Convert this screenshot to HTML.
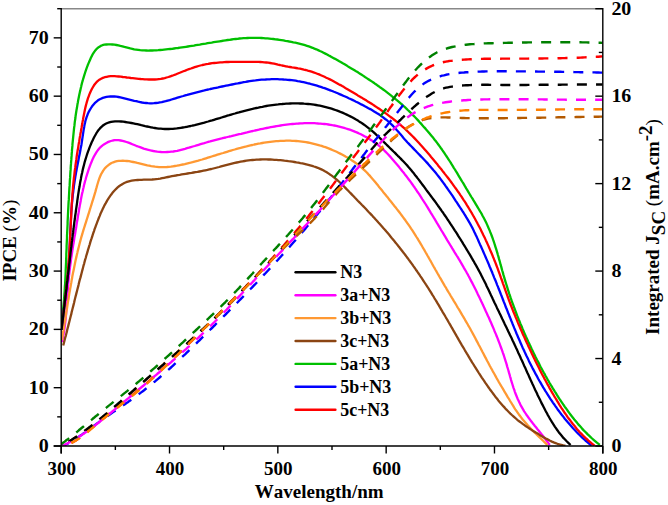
<!DOCTYPE html>
<html><head><meta charset="utf-8"><style>
html,body{margin:0;padding:0;background:#fff;width:668px;height:505px;overflow:hidden;}
svg{display:block;font-family:"Liberation Serif",serif;}
</style></head><body>
<svg width="668" height="505" viewBox="0 0 668 505">
<rect width="668" height="505" fill="#fff"/>
<defs><clipPath id="pc"><rect x="61.2" y="8.7" width="541.6" height="437.3"/></clipPath></defs>
<g clip-path="url(#pc)" fill="none" stroke-linejoin="round">
<path d="M62.0,342.0 62.4,340.0 62.8,338.1 63.2,336.1 63.6,334.1 63.9,332.1 64.2,330.1 64.5,328.2 64.8,326.2 65.0,324.2 65.3,322.2 65.5,320.2 65.7,318.2 65.9,316.2 66.1,314.2 66.2,312.2 66.4,310.2 66.5,308.2 66.7,306.2 66.8,304.2 67.0,302.2 67.1,300.2 67.2,298.2 67.4,296.2 67.5,294.2 67.6,292.2 67.8,290.2 67.9,288.2 68.1,286.2 68.2,284.2 68.4,282.2 68.6,280.2 68.8,278.2 69.0,276.2 69.2,274.2 69.4,272.2 69.6,270.2 69.9,268.3 70.1,266.3 70.4,264.3 70.7,262.3 70.9,260.3 71.2,258.3 71.5,256.3 71.8,254.3 72.1,252.3 72.4,250.3 72.7,248.4 73.0,246.4 73.3,244.4 73.7,242.4 74.0,240.4 74.3,238.4 74.6,236.4 75.0,234.5 75.3,232.5 75.6,230.5 76.0,228.5 76.3,226.6 76.6,224.6 76.9,222.6 77.3,220.6 77.6,218.7 77.9,216.7 78.2,214.7 78.6,212.7 78.9,210.8 79.2,208.8 79.6,206.8 79.9,204.9 80.3,202.9 80.7,200.9 81.0,199.0 81.4,197.0 81.8,195.1 82.2,193.1 82.7,191.2 83.1,189.2 83.6,187.3 84.0,185.3 84.5,183.4 85.0,181.4 85.6,179.5 86.1,177.5 86.7,175.6 87.3,173.7 87.9,171.8 88.5,169.8 89.2,167.9 89.9,166.0 90.6,164.1 91.4,162.2 92.2,160.3 93.0,158.4 93.9,156.6 94.9,154.8 95.9,153.1 97.0,151.4 98.2,149.8 99.4,148.3 100.8,146.9 102.3,145.6 103.9,144.4 105.5,143.4 107.3,142.4 109.1,141.6 110.9,141.0 112.8,140.5 114.7,140.2 116.7,140.1 118.6,140.2 120.6,140.5 122.6,140.9 124.5,141.4 126.5,142.0 128.5,142.7 130.4,143.4 132.3,144.2 134.3,145.0 136.2,145.8 138.1,146.5 140.0,147.2 141.9,147.9 143.7,148.6 145.6,149.1 147.5,149.7 149.5,150.2 151.4,150.6 153.4,151.0 155.3,151.3 157.3,151.6 159.3,151.8 161.3,152.0 163.3,152.1 165.3,152.1 167.3,152.0 169.3,151.9 171.3,151.7 173.3,151.5 175.3,151.1 177.2,150.8 179.2,150.3 181.1,149.8 183.1,149.3 185.0,148.8 187.0,148.2 188.9,147.7 190.8,147.1 192.8,146.5 194.7,146.0 196.6,145.4 198.6,144.8 200.5,144.2 202.4,143.6 204.3,143.1 206.3,142.5 208.2,141.9 210.1,141.4 212.1,140.8 214.0,140.3 215.9,139.8 217.9,139.3 219.8,138.8 221.7,138.4 223.7,137.9 225.6,137.5 227.5,137.0 229.5,136.5 231.4,136.1 233.4,135.6 235.3,135.2 237.3,134.7 239.2,134.2 241.2,133.8 243.1,133.3 245.1,132.8 247.0,132.4 249.0,131.9 251.0,131.4 252.9,131.0 254.9,130.5 256.9,130.1 258.8,129.7 260.8,129.2 262.8,128.8 264.7,128.4 266.7,128.0 268.7,127.6 270.7,127.2 272.6,126.8 274.6,126.5 276.6,126.1 278.6,125.8 280.6,125.5 282.5,125.2 284.5,124.9 286.5,124.6 288.5,124.4 290.5,124.2 292.5,124.0 294.5,123.8 296.5,123.6 298.5,123.5 300.5,123.3 302.4,123.3 304.4,123.2 306.4,123.1 308.4,123.1 310.4,123.1 312.4,123.2 314.4,123.2 316.4,123.3 318.4,123.5 320.4,123.6 322.4,123.8 324.4,124.0 326.4,124.2 328.4,124.5 330.4,124.8 332.4,125.2 334.3,125.5 336.3,125.9 338.2,126.4 340.2,126.9 342.1,127.4 344.1,127.9 346.0,128.5 347.9,129.1 349.8,129.7 351.7,130.4 353.6,131.1 355.4,131.9 357.3,132.6 359.1,133.5 360.9,134.3 362.7,135.2 364.5,136.2 366.3,137.1 368.0,138.1 369.7,139.2 371.4,140.3 373.1,141.4 374.8,142.5 376.4,143.7 378.0,144.9 379.5,146.2 381.0,147.5 382.5,148.8 384.0,150.2 385.4,151.6 386.8,153.0 388.2,154.5 389.5,155.9 390.9,157.4 392.2,158.9 393.5,160.4 394.8,162.0 396.1,163.5 397.4,165.0 398.7,166.6 399.9,168.1 401.2,169.7 402.4,171.3 403.7,172.8 404.9,174.4 406.2,176.0 407.4,177.6 408.6,179.2 409.8,180.8 411.0,182.4 412.1,184.0 413.3,185.7 414.5,187.3 415.6,189.0 416.7,190.6 417.8,192.3 419.0,193.9 420.1,195.6 421.2,197.3 422.2,199.0 423.3,200.7 424.4,202.3 425.5,204.0 426.5,205.7 427.6,207.4 428.6,209.1 429.7,210.9 430.7,212.6 431.8,214.3 432.8,216.0 433.8,217.7 434.9,219.4 435.9,221.2 436.9,222.9 438.0,224.6 439.0,226.3 440.0,228.0 441.0,229.8 442.1,231.5 443.1,233.2 444.1,234.9 445.2,236.7 446.2,238.4 447.2,240.1 448.3,241.8 449.3,243.5 450.3,245.2 451.4,246.9 452.4,248.7 453.5,250.4 454.5,252.1 455.6,253.8 456.6,255.5 457.7,257.2 458.7,258.9 459.8,260.6 460.8,262.4 461.8,264.1 462.8,265.8 463.8,267.6 464.8,269.3 465.8,271.0 466.8,272.8 467.8,274.5 468.7,276.3 469.7,278.1 470.6,279.9 471.5,281.6 472.5,283.4 473.4,285.2 474.3,287.0 475.2,288.8 476.1,290.6 477.0,292.4 477.8,294.2 478.7,296.0 479.6,297.8 480.4,299.6 481.3,301.4 482.2,303.3 483.0,305.1 483.9,306.9 484.7,308.7 485.5,310.5 486.4,312.4 487.2,314.2 488.0,316.0 488.9,317.8 489.7,319.7 490.5,321.5 491.3,323.3 492.1,325.2 492.9,327.0 493.7,328.9 494.4,330.7 495.2,332.6 496.0,334.4 496.7,336.3 497.5,338.1 498.2,340.0 498.9,341.8 499.6,343.7 500.3,345.6 501.0,347.5 501.7,349.4 502.4,351.3 503.0,353.1 503.7,355.0 504.3,357.0 504.9,358.9 505.5,360.8 506.1,362.7 506.7,364.6 507.2,366.6 507.8,368.5 508.4,370.5 508.9,372.4 509.5,374.3 510.0,376.3 510.6,378.2 511.1,380.1 511.7,382.1 512.3,384.0 512.9,385.9 513.5,387.8 514.2,389.7 514.8,391.6 515.5,393.5 516.2,395.3 517.0,397.2 517.7,399.0 518.6,400.8 519.4,402.6 520.3,404.4 521.2,406.2 522.2,407.9 523.2,409.6 524.2,411.3 525.3,413.0 526.4,414.7 527.6,416.3 528.8,418.0 530.0,419.6 531.2,421.2 532.4,422.8 533.7,424.4 534.9,426.0 536.2,427.6 537.5,429.2 538.8,430.7 540.0,432.3 541.3,433.9 542.6,435.5 543.8,437.0 545.0,438.6 546.2,440.2 547.4,441.8 548.6,443.4 549.7,445.0" stroke="#ff00ff" stroke-width="2.3"/>
<path d="M61.8,340.0 62.1,338.0 62.5,336.1 62.8,334.1 63.1,332.1 63.5,330.2 63.8,328.2 64.1,326.2 64.4,324.2 64.7,322.3 65.1,320.3 65.4,318.3 65.7,316.3 66.0,314.3 66.3,312.3 66.6,310.3 67.0,308.4 67.3,306.4 67.6,304.4 67.9,302.4 68.2,300.4 68.6,298.4 68.9,296.4 69.2,294.4 69.5,292.5 69.9,290.5 70.2,288.5 70.6,286.5 70.9,284.5 71.3,282.5 71.6,280.6 72.0,278.6 72.3,276.6 72.7,274.6 73.1,272.6 73.5,270.7 73.9,268.7 74.3,266.7 74.7,264.8 75.1,262.8 75.5,260.8 75.9,258.9 76.4,256.9 76.8,255.0 77.3,253.0 77.7,251.1 78.2,249.1 78.7,247.2 79.2,245.3 79.7,243.3 80.2,241.4 80.7,239.5 81.2,237.6 81.8,235.6 82.4,233.7 82.9,231.8 83.5,229.9 84.1,228.0 84.7,226.1 85.3,224.2 85.9,222.3 86.5,220.4 87.1,218.5 87.7,216.6 88.3,214.7 88.9,212.8 89.5,210.9 90.1,208.9 90.7,207.0 91.3,205.1 91.9,203.2 92.5,201.2 93.1,199.3 93.7,197.3 94.3,195.4 94.9,193.4 95.5,191.4 96.0,189.4 96.6,187.4 97.1,185.5 97.7,183.5 98.3,181.5 98.9,179.6 99.6,177.7 100.4,175.8 101.2,174.0 102.2,172.3 103.2,170.6 104.3,169.1 105.6,167.6 106.9,166.3 108.4,165.1 109.9,164.0 111.5,163.0 113.3,162.3 115.1,161.7 116.9,161.2 118.8,160.9 120.8,160.8 122.8,160.7 124.9,160.8 127.0,161.0 129.1,161.2 131.1,161.6 133.2,162.0 135.3,162.4 137.3,162.9 139.3,163.3 141.3,163.8 143.3,164.3 145.3,164.8 147.3,165.3 149.2,165.7 151.2,166.1 153.1,166.4 155.1,166.7 157.0,166.9 159.0,167.1 161.0,167.1 163.0,167.2 164.9,167.1 166.9,167.0 168.9,166.8 170.9,166.6 172.9,166.3 174.9,166.0 176.9,165.7 178.9,165.3 180.9,164.9 182.8,164.5 184.8,164.1 186.7,163.6 188.7,163.1 190.6,162.7 192.6,162.2 194.5,161.6 196.4,161.1 198.3,160.6 200.3,160.0 202.2,159.5 204.1,158.9 206.0,158.3 207.9,157.7 209.8,157.1 211.7,156.5 213.6,155.9 215.5,155.3 217.4,154.7 219.4,154.1 221.3,153.5 223.2,153.0 225.1,152.4 227.0,151.8 228.9,151.2 230.9,150.6 232.8,150.0 234.7,149.5 236.7,148.9 238.6,148.4 240.6,147.9 242.5,147.3 244.5,146.8 246.5,146.4 248.4,145.9 250.4,145.4 252.4,145.0 254.3,144.5 256.3,144.1 258.3,143.7 260.3,143.4 262.3,143.0 264.2,142.7 266.2,142.4 268.2,142.1 270.2,141.8 272.2,141.6 274.2,141.4 276.2,141.2 278.2,141.1 280.2,140.9 282.1,140.8 284.1,140.8 286.1,140.7 288.1,140.7 290.1,140.7 292.1,140.8 294.1,140.9 296.1,141.0 298.0,141.2 300.0,141.4 302.0,141.6 304.0,141.9 305.9,142.2 307.9,142.5 309.9,142.9 311.8,143.3 313.8,143.8 315.8,144.3 317.7,144.8 319.6,145.4 321.6,145.9 323.5,146.6 325.4,147.2 327.3,147.9 329.2,148.6 331.0,149.4 332.9,150.2 334.8,151.0 336.6,151.8 338.4,152.7 340.2,153.6 342.0,154.5 343.8,155.5 345.5,156.5 347.3,157.5 349.0,158.5 350.7,159.6 352.4,160.7 354.0,161.8 355.7,163.0 357.3,164.2 358.8,165.4 360.4,166.7 361.9,167.9 363.4,169.3 364.9,170.6 366.3,172.0 367.7,173.4 369.0,174.9 370.4,176.4 371.7,177.9 373.0,179.4 374.3,180.9 375.6,182.5 376.8,184.0 378.1,185.6 379.3,187.2 380.6,188.7 381.9,190.3 383.1,191.9 384.4,193.4 385.7,195.0 386.9,196.6 388.2,198.1 389.4,199.7 390.7,201.3 391.9,202.8 393.2,204.4 394.4,206.0 395.7,207.6 396.9,209.1 398.2,210.7 399.4,212.3 400.6,213.9 401.8,215.5 403.0,217.1 404.2,218.7 405.4,220.3 406.5,222.0 407.7,223.6 408.8,225.2 410.0,226.9 411.1,228.6 412.2,230.2 413.3,231.9 414.4,233.6 415.5,235.3 416.5,237.0 417.6,238.7 418.6,240.4 419.7,242.1 420.7,243.8 421.7,245.5 422.7,247.3 423.7,249.0 424.7,250.7 425.7,252.5 426.7,254.2 427.7,256.0 428.7,257.7 429.7,259.5 430.7,261.2 431.7,263.0 432.6,264.7 433.6,266.5 434.6,268.2 435.6,270.0 436.6,271.7 437.6,273.5 438.6,275.2 439.6,277.0 440.6,278.7 441.6,280.4 442.6,282.2 443.6,283.9 444.6,285.6 445.7,287.3 446.7,289.1 447.7,290.8 448.7,292.5 449.8,294.2 450.8,296.0 451.8,297.7 452.9,299.4 453.9,301.1 455.0,302.8 456.0,304.5 457.0,306.3 458.0,308.0 459.1,309.7 460.1,311.4 461.1,313.1 462.1,314.9 463.2,316.6 464.2,318.3 465.2,320.1 466.2,321.8 467.2,323.5 468.2,325.3 469.2,327.0 470.2,328.8 471.1,330.5 472.1,332.3 473.1,334.1 474.0,335.8 475.0,337.6 475.9,339.4 476.8,341.1 477.8,342.9 478.7,344.7 479.7,346.5 480.6,348.2 481.5,350.0 482.4,351.8 483.4,353.6 484.3,355.4 485.2,357.1 486.2,358.9 487.1,360.7 488.1,362.5 489.0,364.2 489.9,366.0 490.9,367.8 491.9,369.5 492.8,371.3 493.8,373.0 494.8,374.8 495.8,376.6 496.7,378.3 497.7,380.0 498.7,381.8 499.7,383.5 500.8,385.3 501.8,387.0 502.8,388.7 503.8,390.4 504.8,392.2 505.9,393.9 506.9,395.6 507.9,397.3 509.0,399.0 510.0,400.8 511.1,402.5 512.1,404.2 513.2,405.9 514.2,407.6 515.3,409.3 516.4,410.9 517.6,412.6 518.7,414.2 519.9,415.8 521.1,417.4 522.3,419.0 523.6,420.6 524.9,422.1 526.2,423.6 527.5,425.1 528.9,426.6 530.3,428.1 531.7,429.5 533.1,431.0 534.5,432.4 535.9,433.8 537.3,435.2 538.8,436.6 540.2,438.0 541.7,439.4 543.1,440.8 544.5,442.2 546.0,443.6 547.4,445.0" stroke="#ff9933" stroke-width="2.3"/>
<path d="M63.2,345.5 63.7,343.6 64.2,341.6 64.7,339.7 65.2,337.7 65.8,335.8 66.3,333.8 66.8,331.9 67.2,329.9 67.7,328.0 68.2,326.1 68.7,324.1 69.2,322.2 69.7,320.2 70.2,318.3 70.7,316.3 71.2,314.4 71.6,312.4 72.1,310.5 72.6,308.5 73.1,306.6 73.6,304.6 74.1,302.7 74.5,300.7 75.0,298.8 75.5,296.8 76.0,294.9 76.5,292.9 77.0,291.0 77.5,289.0 78.0,287.1 78.5,285.1 78.9,283.2 79.4,281.2 79.9,279.3 80.5,277.4 81.0,275.4 81.5,273.5 82.0,271.5 82.5,269.6 83.0,267.7 83.5,265.7 84.1,263.8 84.6,261.8 85.1,259.9 85.7,258.0 86.2,256.0 86.8,254.1 87.4,252.2 87.9,250.2 88.5,248.3 89.1,246.4 89.7,244.5 90.2,242.6 90.8,240.6 91.5,238.7 92.1,236.8 92.7,234.9 93.3,233.0 94.0,231.1 94.6,229.2 95.3,227.3 96.0,225.4 96.7,223.6 97.4,221.7 98.1,219.8 98.8,218.0 99.6,216.1 100.3,214.3 101.1,212.4 102.0,210.6 102.8,208.8 103.7,206.9 104.6,205.1 105.6,203.4 106.6,201.6 107.6,199.8 108.7,198.1 109.9,196.4 111.1,194.7 112.3,193.1 113.6,191.5 115.0,190.0 116.4,188.6 117.9,187.2 119.4,186.0 121.0,184.9 122.6,183.9 124.3,183.0 126.1,182.2 127.9,181.6 129.8,181.1 131.7,180.7 133.6,180.4 135.6,180.2 137.6,180.0 139.7,179.9 141.7,179.8 143.8,179.7 145.9,179.7 148.0,179.6 150.0,179.6 152.1,179.5 154.2,179.3 156.2,179.1 158.2,178.9 160.2,178.6 162.1,178.2 164.1,177.8 166.0,177.4 168.0,177.0 169.9,176.6 171.9,176.2 173.8,175.8 175.8,175.5 177.7,175.1 179.7,174.8 181.7,174.4 183.7,174.1 185.6,173.8 187.6,173.5 189.6,173.2 191.6,172.9 193.6,172.5 195.5,172.2 197.5,171.9 199.5,171.5 201.5,171.1 203.5,170.7 205.4,170.3 207.4,169.9 209.4,169.4 211.3,169.0 213.3,168.5 215.3,168.0 217.2,167.5 219.2,167.0 221.1,166.4 223.1,165.9 225.0,165.4 227.0,164.9 228.9,164.4 230.9,163.9 232.8,163.4 234.8,162.9 236.7,162.5 238.7,162.1 240.6,161.7 242.6,161.3 244.6,161.0 246.5,160.7 248.5,160.4 250.5,160.2 252.5,160.0 254.5,159.8 256.4,159.7 258.4,159.6 260.4,159.5 262.4,159.4 264.4,159.4 266.4,159.4 268.4,159.5 270.4,159.5 272.4,159.6 274.4,159.8 276.4,159.9 278.4,160.1 280.4,160.2 282.4,160.4 284.4,160.7 286.4,160.9 288.4,161.2 290.4,161.4 292.4,161.7 294.4,162.0 296.4,162.4 298.4,162.7 300.4,163.1 302.4,163.4 304.4,163.8 306.3,164.3 308.3,164.8 310.2,165.3 312.1,165.8 314.0,166.5 315.9,167.1 317.8,167.8 319.6,168.6 321.4,169.4 323.2,170.3 324.9,171.3 326.7,172.3 328.4,173.4 330.0,174.5 331.7,175.6 333.3,176.8 334.9,178.1 336.4,179.3 337.9,180.7 339.4,182.0 340.9,183.4 342.3,184.8 343.8,186.2 345.2,187.6 346.6,189.1 348.0,190.5 349.4,192.0 350.8,193.4 352.2,194.9 353.6,196.3 355.0,197.8 356.4,199.2 357.8,200.7 359.2,202.1 360.6,203.5 362.0,205.0 363.4,206.4 364.8,207.8 366.2,209.3 367.5,210.7 368.9,212.2 370.3,213.6 371.7,215.1 373.0,216.6 374.4,218.0 375.7,219.5 377.1,221.0 378.4,222.5 379.8,224.0 381.1,225.5 382.4,227.0 383.7,228.5 385.1,230.0 386.4,231.6 387.7,233.1 389.0,234.6 390.3,236.2 391.5,237.7 392.8,239.2 394.1,240.8 395.4,242.4 396.6,243.9 397.9,245.5 399.1,247.1 400.4,248.7 401.6,250.2 402.8,251.8 404.1,253.4 405.3,255.0 406.5,256.6 407.7,258.2 408.9,259.9 410.1,261.5 411.3,263.1 412.4,264.7 413.6,266.4 414.8,268.0 415.9,269.7 417.1,271.3 418.2,273.0 419.4,274.6 420.5,276.3 421.6,277.9 422.7,279.6 423.8,281.3 424.9,283.0 426.0,284.7 427.1,286.3 428.2,288.0 429.2,289.7 430.3,291.4 431.4,293.1 432.4,294.8 433.5,296.5 434.5,298.3 435.6,300.0 436.6,301.7 437.6,303.4 438.7,305.1 439.7,306.9 440.7,308.6 441.7,310.3 442.7,312.1 443.8,313.8 444.8,315.5 445.8,317.3 446.8,319.0 447.8,320.7 448.8,322.5 449.8,324.2 450.8,325.9 451.8,327.7 452.8,329.4 453.8,331.2 454.8,332.9 455.8,334.6 456.8,336.4 457.8,338.1 458.8,339.9 459.8,341.6 460.8,343.3 461.8,345.1 462.9,346.8 463.9,348.5 464.9,350.3 465.9,352.0 466.9,353.7 468.0,355.4 469.0,357.2 470.0,358.9 471.1,360.6 472.1,362.3 473.2,364.0 474.2,365.7 475.3,367.4 476.4,369.1 477.5,370.8 478.5,372.5 479.6,374.2 480.7,375.9 481.8,377.6 482.9,379.2 484.1,380.9 485.2,382.6 486.3,384.2 487.5,385.9 488.6,387.5 489.8,389.2 491.0,390.8 492.2,392.4 493.4,394.0 494.6,395.6 495.8,397.2 497.1,398.8 498.3,400.4 499.6,401.9 500.9,403.4 502.2,404.9 503.5,406.4 504.9,407.9 506.2,409.4 507.6,410.8 509.0,412.2 510.4,413.6 511.9,415.0 513.4,416.3 514.9,417.7 516.4,419.0 517.9,420.3 519.5,421.5 521.1,422.7 522.7,423.9 524.4,425.1 526.0,426.3 527.7,427.4 529.4,428.5 531.1,429.6 532.8,430.7 534.5,431.7 536.2,432.8 538.0,433.8 539.7,434.9 541.4,435.9 543.1,436.9 544.9,437.9 546.6,438.9 548.4,439.8 550.1,440.7 551.9,441.6 553.7,442.4 555.6,443.1 557.4,443.8 559.4,444.4 561.3,444.9 563.3,445.4 565.4,445.7" stroke="#8b4513" stroke-width="2.3"/>
<path d="M61.5,322.0 61.8,320.0 62.0,318.0 62.3,316.0 62.5,314.0 62.8,312.1 63.0,310.1 63.2,308.1 63.4,306.1 63.6,304.1 63.8,302.1 64.0,300.1 64.1,298.1 64.3,296.1 64.4,294.1 64.6,292.1 64.7,290.1 64.8,288.1 64.9,286.1 65.1,284.1 65.2,282.1 65.3,280.1 65.4,278.1 65.5,276.1 65.6,274.1 65.7,272.1 65.7,270.1 65.8,268.1 65.9,266.0 66.0,264.0 66.1,262.0 66.1,260.0 66.2,258.0 66.3,256.0 66.3,254.0 66.4,252.0 66.5,250.0 66.6,248.0 66.6,246.0 66.7,244.0 66.8,242.0 66.9,240.0 67.0,238.0 67.0,236.0 67.1,234.0 67.2,232.0 67.3,230.0 67.4,228.0 67.5,226.0 67.6,224.0 67.6,222.0 67.7,220.0 67.8,218.0 67.9,215.9 68.0,213.9 68.1,211.9 68.2,209.9 68.3,207.9 68.4,205.9 68.5,203.9 68.6,201.9 68.8,199.9 68.9,197.9 69.0,195.9 69.1,193.9 69.2,191.9 69.3,189.9 69.4,187.9 69.6,185.9 69.7,183.9 69.8,181.9 69.9,179.9 70.1,177.9 70.2,175.9 70.3,173.9 70.4,171.9 70.6,169.9 70.7,167.9 70.8,165.9 71.0,163.9 71.1,161.9 71.3,159.9 71.4,157.9 71.6,155.9 71.7,153.9 71.9,151.9 72.0,149.9 72.2,147.9 72.4,145.9 72.5,143.9 72.7,141.9 72.9,139.9 73.1,137.9 73.3,135.9 73.5,133.9 73.7,131.9 73.9,129.9 74.1,127.9 74.4,125.9 74.6,123.9 74.8,121.9 75.1,120.0 75.4,118.0 75.6,116.0 75.9,114.0 76.2,112.0 76.5,110.1 76.9,108.1 77.2,106.1 77.5,104.1 77.9,102.2 78.2,100.2 78.6,98.2 79.0,96.3 79.4,94.3 79.8,92.4 80.3,90.4 80.7,88.5 81.2,86.5 81.6,84.6 82.1,82.6 82.7,80.7 83.2,78.8 83.8,76.8 84.4,74.9 85.0,73.0 85.6,71.1 86.3,69.1 87.0,67.2 87.7,65.3 88.5,63.4 89.3,61.5 90.1,59.7 90.9,57.8 91.9,55.9 92.8,54.1 93.9,52.4 95.0,50.8 96.2,49.4 97.6,48.0 99.1,46.9 100.7,45.9 102.4,45.2 104.3,44.7 106.3,44.5 108.3,44.4 110.4,44.4 112.4,44.5 114.4,44.7 116.4,45.0 118.4,45.4 120.4,45.9 122.4,46.3 124.4,46.9 126.3,47.4 128.3,47.9 130.3,48.4 132.3,48.8 134.2,49.3 136.2,49.6 138.2,49.9 140.2,50.2 142.2,50.3 144.2,50.4 146.2,50.5 148.2,50.6 150.2,50.5 152.2,50.5 154.2,50.4 156.2,50.3 158.2,50.2 160.2,50.0 162.2,49.8 164.1,49.6 166.1,49.4 168.1,49.2 170.1,49.0 172.1,48.8 174.1,48.5 176.1,48.2 178.0,48.0 180.0,47.7 182.0,47.4 184.0,47.1 186.0,46.8 187.9,46.5 189.9,46.2 191.9,45.9 193.9,45.6 195.8,45.2 197.8,44.9 199.8,44.6 201.8,44.2 203.8,43.9 205.7,43.6 207.7,43.2 209.7,42.9 211.7,42.6 213.7,42.2 215.6,41.9 217.6,41.6 219.6,41.3 221.6,41.0 223.6,40.6 225.6,40.3 227.6,40.0 229.6,39.8 231.6,39.5 233.6,39.2 235.6,39.0 237.6,38.8 239.5,38.5 241.5,38.4 243.5,38.2 245.5,38.1 247.5,38.0 249.5,37.9 251.5,37.9 253.5,37.8 255.5,37.8 257.5,37.9 259.5,37.9 261.5,38.0 263.5,38.1 265.5,38.3 267.5,38.4 269.4,38.6 271.4,38.8 273.4,39.0 275.4,39.3 277.4,39.5 279.4,39.8 281.4,40.1 283.4,40.4 285.4,40.8 287.3,41.1 289.3,41.5 291.3,41.8 293.3,42.3 295.3,42.7 297.2,43.1 299.2,43.6 301.1,44.1 303.1,44.6 305.0,45.2 306.9,45.8 308.8,46.4 310.7,47.1 312.6,47.8 314.4,48.6 316.3,49.3 318.1,50.1 319.9,51.0 321.7,51.8 323.5,52.7 325.3,53.6 327.1,54.5 328.8,55.5 330.6,56.4 332.4,57.4 334.1,58.4 335.9,59.3 337.6,60.3 339.3,61.3 341.1,62.3 342.8,63.3 344.6,64.3 346.3,65.3 348.0,66.4 349.7,67.4 351.4,68.4 353.2,69.5 354.9,70.5 356.6,71.6 358.3,72.6 360.0,73.7 361.7,74.8 363.4,75.9 365.0,77.0 366.7,78.1 368.4,79.2 370.0,80.3 371.7,81.4 373.4,82.5 375.0,83.7 376.7,84.8 378.3,86.0 379.9,87.2 381.6,88.3 383.2,89.5 384.8,90.7 386.4,91.9 388.0,93.1 389.6,94.3 391.2,95.6 392.7,96.8 394.3,98.1 395.9,99.3 397.4,100.6 398.9,101.9 400.4,103.2 402.0,104.5 403.4,105.9 404.9,107.2 406.4,108.6 407.8,110.0 409.3,111.4 410.7,112.8 412.1,114.2 413.5,115.6 414.9,117.0 416.3,118.5 417.6,119.9 419.0,121.4 420.3,122.9 421.7,124.4 423.0,125.9 424.3,127.4 425.7,128.9 427.0,130.4 428.3,131.9 429.6,133.5 430.8,135.0 432.1,136.6 433.4,138.1 434.6,139.7 435.9,141.3 437.1,142.9 438.3,144.5 439.5,146.1 440.6,147.7 441.8,149.3 442.9,151.0 444.1,152.6 445.2,154.3 446.3,156.0 447.4,157.6 448.5,159.3 449.6,161.0 450.7,162.7 451.7,164.4 452.8,166.1 453.8,167.8 454.9,169.5 455.9,171.2 457.0,172.9 458.0,174.6 459.0,176.3 460.1,178.1 461.1,179.8 462.1,181.5 463.2,183.2 464.2,184.9 465.2,186.7 466.2,188.4 467.3,190.1 468.3,191.8 469.3,193.5 470.4,195.3 471.4,197.0 472.5,198.7 473.5,200.4 474.6,202.1 475.6,203.8 476.7,205.6 477.7,207.3 478.7,209.0 479.8,210.8 480.8,212.5 481.8,214.2 482.7,216.0 483.7,217.8 484.6,219.5 485.5,221.3 486.4,223.1 487.2,224.9 488.0,226.7 488.8,228.6 489.6,230.4 490.3,232.2 491.1,234.1 491.8,236.0 492.5,237.8 493.1,239.7 493.8,241.6 494.4,243.5 495.0,245.4 495.6,247.3 496.2,249.2 496.8,251.2 497.4,253.1 497.9,255.0 498.5,256.9 499.0,258.9 499.6,260.8 500.1,262.7 500.6,264.7 501.2,266.6 501.7,268.6 502.2,270.5 502.8,272.4 503.3,274.4 503.9,276.3 504.4,278.2 505.0,280.2 505.6,282.1 506.2,284.0 506.8,285.9 507.4,287.8 508.0,289.8 508.6,291.7 509.2,293.6 509.9,295.5 510.5,297.4 511.2,299.3 511.8,301.2 512.5,303.1 513.2,304.9 513.9,306.8 514.6,308.7 515.3,310.6 516.0,312.5 516.7,314.3 517.4,316.2 518.2,318.1 518.9,319.9 519.7,321.8 520.4,323.6 521.2,325.5 522.0,327.3 522.7,329.2 523.5,331.0 524.3,332.9 525.1,334.7 525.9,336.5 526.8,338.4 527.6,340.2 528.4,342.0 529.3,343.8 530.1,345.6 531.0,347.5 531.8,349.3 532.7,351.1 533.6,352.9 534.5,354.7 535.3,356.5 536.2,358.3 537.1,360.1 538.1,361.8 539.0,363.6 539.9,365.4 540.8,367.2 541.8,369.0 542.7,370.7 543.7,372.5 544.7,374.2 545.6,376.0 546.6,377.7 547.6,379.5 548.6,381.2 549.6,383.0 550.6,384.7 551.7,386.4 552.7,388.1 553.8,389.8 554.8,391.5 555.9,393.2 556.9,394.9 558.0,396.6 559.1,398.3 560.2,400.0 561.3,401.6 562.5,403.3 563.6,405.0 564.7,406.6 565.9,408.2 567.1,409.9 568.2,411.5 569.4,413.1 570.6,414.7 571.8,416.3 573.1,417.9 574.3,419.5 575.6,421.0 576.9,422.6 578.1,424.1 579.5,425.6 580.8,427.1 582.1,428.6 583.5,430.1 584.9,431.5 586.3,432.9 587.7,434.4 589.1,435.7 590.6,437.1 592.1,438.5 593.6,439.8 595.1,441.1 596.6,442.4 598.2,443.7 599.8,444.9" stroke="#00c000" stroke-width="2.3"/>
<path d="M61.5,330.0 61.7,328.0 61.9,326.0 62.1,324.0 62.4,322.0 62.6,320.0 62.8,318.0 63.1,316.1 63.3,314.1 63.5,312.1 63.8,310.1 64.0,308.1 64.3,306.1 64.5,304.1 64.8,302.1 65.0,300.1 65.3,298.1 65.5,296.1 65.8,294.1 66.0,292.2 66.3,290.2 66.5,288.2 66.7,286.2 66.9,284.2 67.2,282.2 67.4,280.2 67.6,278.2 67.8,276.2 68.0,274.2 68.1,272.2 68.3,270.2 68.5,268.2 68.6,266.2 68.8,264.2 68.9,262.2 69.0,260.2 69.1,258.2 69.2,256.2 69.4,254.2 69.5,252.2 69.5,250.2 69.6,248.2 69.7,246.2 69.8,244.2 69.9,242.2 70.0,240.2 70.1,238.2 70.1,236.2 70.2,234.2 70.3,232.2 70.4,230.1 70.5,228.1 70.6,226.1 70.7,224.1 70.8,222.1 70.9,220.1 71.0,218.1 71.1,216.1 71.2,214.1 71.3,212.1 71.5,210.1 71.6,208.1 71.8,206.1 71.9,204.1 72.1,202.1 72.3,200.1 72.5,198.1 72.7,196.1 72.9,194.1 73.2,192.1 73.4,190.2 73.7,188.2 73.9,186.2 74.2,184.2 74.5,182.2 74.8,180.2 75.1,178.3 75.4,176.3 75.8,174.3 76.1,172.3 76.5,170.4 76.8,168.4 77.2,166.4 77.6,164.5 78.0,162.5 78.4,160.6 78.7,158.6 79.1,156.6 79.5,154.7 79.9,152.7 80.3,150.8 80.6,148.8 81.0,146.8 81.4,144.9 81.7,142.9 82.0,140.9 82.3,138.9 82.6,136.9 82.9,134.9 83.2,132.9 83.5,130.9 83.8,128.9 84.2,126.9 84.5,125.0 85.0,123.0 85.4,121.0 86.0,119.1 86.6,117.2 87.3,115.3 88.0,113.4 88.9,111.6 89.9,109.8 91.0,108.0 92.1,106.3 93.4,104.7 94.7,103.2 96.2,101.9 97.7,100.6 99.3,99.6 101.0,98.7 102.8,97.9 104.6,97.4 106.5,96.9 108.5,96.6 110.4,96.5 112.4,96.4 114.4,96.5 116.4,96.7 118.4,97.0 120.4,97.4 122.4,97.8 124.4,98.3 126.4,98.8 128.3,99.3 130.3,99.8 132.3,100.3 134.2,100.8 136.2,101.2 138.2,101.7 140.1,102.1 142.1,102.5 144.1,102.8 146.0,103.0 148.0,103.2 149.9,103.3 151.9,103.3 153.9,103.2 155.9,103.0 157.8,102.8 159.8,102.4 161.8,102.1 163.7,101.6 165.7,101.2 167.7,100.6 169.7,100.1 171.6,99.5 173.6,98.9 175.5,98.3 177.5,97.7 179.4,97.1 181.4,96.5 183.3,96.0 185.2,95.4 187.1,94.9 189.1,94.3 191.0,93.8 192.9,93.3 194.8,92.8 196.7,92.3 198.7,91.8 200.6,91.3 202.5,90.8 204.4,90.4 206.4,89.9 208.3,89.5 210.3,89.0 212.2,88.6 214.2,88.2 216.2,87.8 218.2,87.4 220.1,86.9 222.1,86.5 224.1,86.1 226.0,85.7 228.0,85.3 230.0,84.9 232.0,84.5 233.9,84.1 235.9,83.7 237.8,83.4 239.8,83.0 241.7,82.6 243.7,82.2 245.7,81.9 247.6,81.5 249.6,81.2 251.6,80.9 253.5,80.6 255.5,80.4 257.5,80.1 259.5,79.9 261.5,79.7 263.5,79.6 265.5,79.5 267.5,79.3 269.6,79.3 271.6,79.2 273.6,79.2 275.6,79.2 277.6,79.2 279.6,79.3 281.7,79.3 283.7,79.5 285.7,79.6 287.7,79.8 289.7,80.0 291.7,80.2 293.7,80.4 295.7,80.7 297.6,81.1 299.6,81.4 301.6,81.8 303.5,82.2 305.5,82.6 307.4,83.1 309.3,83.5 311.3,84.1 313.2,84.6 315.1,85.1 317.0,85.7 318.9,86.3 320.8,86.9 322.7,87.6 324.6,88.2 326.5,88.9 328.4,89.6 330.3,90.3 332.1,91.0 334.0,91.8 335.8,92.5 337.7,93.3 339.5,94.1 341.4,94.9 343.2,95.7 345.1,96.5 346.9,97.3 348.7,98.2 350.5,99.0 352.4,99.9 354.2,100.8 356.0,101.7 357.8,102.5 359.6,103.5 361.3,104.4 363.1,105.3 364.9,106.3 366.7,107.2 368.4,108.2 370.2,109.1 371.9,110.1 373.7,111.2 375.4,112.2 377.1,113.3 378.8,114.3 380.4,115.4 382.0,116.6 383.7,117.8 385.2,119.0 386.8,120.2 388.3,121.5 389.8,122.8 391.2,124.2 392.7,125.6 394.0,127.0 395.4,128.5 396.7,130.0 398.1,131.5 399.4,133.1 400.7,134.6 402.0,136.1 403.3,137.7 404.6,139.2 406.0,140.7 407.3,142.2 408.7,143.6 410.1,145.1 411.5,146.5 412.8,147.9 414.2,149.4 415.6,150.8 417.0,152.3 418.4,153.7 419.8,155.1 421.2,156.6 422.6,158.0 424.0,159.5 425.4,161.0 426.7,162.4 428.1,163.9 429.4,165.4 430.7,166.9 432.0,168.4 433.3,170.0 434.6,171.5 435.9,173.1 437.1,174.6 438.4,176.2 439.6,177.8 440.8,179.4 442.0,181.0 443.2,182.6 444.4,184.2 445.5,185.9 446.7,187.5 447.8,189.1 449.0,190.8 450.1,192.4 451.3,194.1 452.4,195.7 453.5,197.4 454.6,199.1 455.7,200.8 456.8,202.4 457.9,204.1 459.0,205.8 460.1,207.5 461.2,209.2 462.3,210.9 463.4,212.5 464.4,214.2 465.5,215.9 466.5,217.7 467.6,219.4 468.6,221.1 469.6,222.8 470.6,224.6 471.5,226.3 472.5,228.1 473.4,229.9 474.2,231.7 475.1,233.5 475.9,235.3 476.8,237.1 477.6,238.9 478.4,240.7 479.2,242.6 480.0,244.4 480.9,246.2 481.7,248.1 482.5,249.9 483.3,251.7 484.1,253.6 484.9,255.4 485.7,257.3 486.5,259.1 487.3,260.9 488.1,262.8 488.9,264.6 489.6,266.5 490.4,268.3 491.2,270.2 492.0,272.0 492.7,273.9 493.5,275.8 494.2,277.6 495.0,279.5 495.8,281.3 496.5,283.2 497.2,285.1 498.0,286.9 498.7,288.8 499.5,290.7 500.2,292.5 500.9,294.4 501.7,296.3 502.4,298.1 503.1,300.0 503.8,301.9 504.6,303.7 505.3,305.6 506.0,307.5 506.8,309.3 507.5,311.2 508.2,313.0 509.0,314.9 509.7,316.8 510.5,318.6 511.2,320.5 512.0,322.4 512.7,324.2 513.5,326.1 514.2,327.9 515.0,329.8 515.8,331.6 516.5,333.5 517.3,335.3 518.1,337.2 518.9,339.0 519.7,340.8 520.5,342.7 521.3,344.5 522.1,346.4 522.9,348.2 523.8,350.0 524.6,351.8 525.5,353.7 526.3,355.5 527.2,357.3 528.1,359.1 528.9,360.9 529.8,362.7 530.7,364.5 531.6,366.3 532.5,368.1 533.5,369.9 534.4,371.6 535.3,373.4 536.3,375.2 537.3,376.9 538.2,378.7 539.2,380.5 540.2,382.2 541.2,383.9 542.2,385.7 543.2,387.4 544.3,389.1 545.3,390.8 546.4,392.5 547.4,394.2 548.5,395.9 549.6,397.6 550.7,399.3 551.8,400.9 552.9,402.6 554.1,404.2 555.2,405.9 556.4,407.5 557.5,409.2 558.7,410.8 559.9,412.4 561.1,414.0 562.3,415.6 563.6,417.1 564.8,418.7 566.1,420.2 567.4,421.8 568.7,423.3 570.0,424.8 571.3,426.3 572.6,427.8 574.0,429.3 575.4,430.7 576.8,432.2 578.2,433.6 579.6,435.0 581.0,436.4 582.5,437.8 584.0,439.2 585.4,440.5 587.0,441.8 588.5,443.1 590.0,444.4 591.6,445.7" stroke="#0000ff" stroke-width="2.3"/>
<path d="M61.5,329.0 61.8,327.0 62.0,325.0 62.3,323.0 62.5,321.0 62.8,319.0 63.0,317.1 63.3,315.1 63.5,313.1 63.7,311.1 64.0,309.1 64.2,307.1 64.5,305.1 64.7,303.1 64.9,301.1 65.1,299.1 65.4,297.1 65.6,295.1 65.8,293.1 66.0,291.2 66.2,289.2 66.4,287.2 66.7,285.2 66.9,283.2 67.0,281.2 67.2,279.2 67.4,277.2 67.6,275.2 67.8,273.2 68.0,271.2 68.1,269.2 68.3,267.2 68.4,265.2 68.6,263.2 68.7,261.2 68.9,259.2 69.0,257.2 69.1,255.2 69.2,253.2 69.4,251.2 69.5,249.2 69.6,247.2 69.7,245.2 69.8,243.2 69.9,241.2 70.0,239.2 70.1,237.2 70.2,235.2 70.3,233.2 70.4,231.1 70.5,229.1 70.6,227.1 70.7,225.1 70.8,223.1 70.9,221.1 71.0,219.1 71.1,217.1 71.2,215.1 71.3,213.1 71.4,211.1 71.5,209.1 71.6,207.1 71.7,205.1 71.8,203.1 72.0,201.1 72.1,199.1 72.3,197.1 72.4,195.1 72.5,193.1 72.7,191.1 72.9,189.1 73.0,187.1 73.2,185.1 73.4,183.1 73.6,181.1 73.8,179.1 74.0,177.1 74.3,175.1 74.5,173.1 74.7,171.1 75.0,169.2 75.3,167.2 75.5,165.2 75.8,163.2 76.1,161.2 76.4,159.2 76.6,157.2 76.9,155.2 77.2,153.3 77.5,151.3 77.9,149.3 78.2,147.3 78.5,145.3 78.8,143.4 79.2,141.4 79.5,139.4 79.8,137.4 80.2,135.4 80.5,133.5 80.9,131.5 81.2,129.5 81.6,127.5 81.9,125.6 82.3,123.6 82.6,121.6 83.0,119.7 83.3,117.7 83.7,115.7 84.1,113.8 84.5,111.8 84.9,109.8 85.3,107.9 85.8,105.9 86.3,104.0 86.8,102.1 87.4,100.1 88.0,98.2 88.7,96.3 89.4,94.4 90.2,92.5 91.1,90.6 92.0,88.8 93.0,87.0 94.0,85.3 95.2,83.7 96.5,82.2 97.9,80.9 99.4,79.7 101.1,78.7 102.9,77.9 104.7,77.2 106.7,76.8 108.6,76.4 110.6,76.2 112.6,76.1 114.6,76.2 116.7,76.3 118.7,76.5 120.8,76.7 122.8,77.0 124.8,77.2 126.8,77.5 128.8,77.7 130.8,78.0 132.7,78.2 134.7,78.4 136.7,78.6 138.7,78.8 140.7,79.0 142.7,79.1 144.7,79.3 146.7,79.4 148.8,79.5 150.8,79.5 152.8,79.5 154.9,79.5 156.9,79.3 158.8,79.1 160.8,78.9 162.8,78.5 164.7,78.1 166.6,77.5 168.5,77.0 170.4,76.3 172.3,75.7 174.1,75.0 176.0,74.3 177.9,73.5 179.7,72.8 181.6,72.0 183.4,71.3 185.3,70.6 187.2,69.8 189.0,69.1 190.9,68.5 192.8,67.8 194.7,67.2 196.6,66.6 198.5,66.0 200.4,65.5 202.4,65.0 204.3,64.6 206.3,64.2 208.2,63.9 210.2,63.5 212.2,63.2 214.2,63.0 216.2,62.8 218.2,62.6 220.2,62.4 222.2,62.3 224.2,62.1 226.2,62.0 228.2,62.0 230.3,61.9 232.3,61.8 234.3,61.8 236.3,61.8 238.3,61.8 240.4,61.8 242.4,61.8 244.4,61.8 246.4,61.8 248.4,61.8 250.4,61.8 252.4,61.8 254.4,61.8 256.4,61.8 258.4,61.9 260.4,62.0 262.3,62.1 264.3,62.3 266.3,62.5 268.2,62.7 270.2,63.0 272.2,63.3 274.1,63.7 276.1,64.1 278.0,64.6 280.0,65.0 282.0,65.5 284.0,65.9 285.9,66.3 287.9,66.7 289.9,67.0 292.0,67.4 294.0,67.7 296.0,68.0 298.0,68.4 300.0,68.7 301.9,69.1 303.9,69.6 305.9,70.0 307.8,70.6 309.7,71.1 311.6,71.7 313.5,72.3 315.4,73.0 317.2,73.7 319.1,74.4 320.9,75.2 322.7,76.0 324.5,76.8 326.3,77.7 328.1,78.5 329.9,79.4 331.7,80.3 333.5,81.3 335.2,82.2 337.0,83.2 338.7,84.2 340.5,85.1 342.2,86.1 344.0,87.1 345.7,88.2 347.5,89.2 349.2,90.2 350.9,91.2 352.7,92.3 354.4,93.3 356.1,94.3 357.8,95.4 359.6,96.4 361.3,97.4 363.0,98.5 364.7,99.5 366.5,100.6 368.2,101.7 369.9,102.7 371.6,103.8 373.3,104.9 374.9,106.0 376.6,107.1 378.3,108.2 380.0,109.3 381.6,110.5 383.3,111.6 384.9,112.8 386.5,113.9 388.1,115.1 389.7,116.3 391.3,117.5 392.9,118.7 394.5,120.0 396.0,121.2 397.6,122.5 399.1,123.8 400.6,125.0 402.1,126.4 403.6,127.7 405.1,129.0 406.6,130.4 408.0,131.8 409.4,133.2 410.9,134.6 412.3,136.0 413.7,137.4 415.1,138.9 416.4,140.3 417.8,141.8 419.2,143.3 420.5,144.7 421.9,146.2 423.2,147.7 424.5,149.2 425.9,150.8 427.2,152.3 428.5,153.8 429.8,155.3 431.1,156.9 432.4,158.4 433.7,160.0 434.9,161.5 436.2,163.1 437.5,164.6 438.7,166.2 440.0,167.8 441.3,169.3 442.5,170.9 443.8,172.5 445.0,174.1 446.2,175.6 447.5,177.2 448.7,178.8 449.9,180.4 451.1,182.0 452.3,183.6 453.5,185.3 454.6,186.9 455.8,188.5 457.0,190.1 458.1,191.8 459.3,193.4 460.4,195.1 461.5,196.7 462.6,198.4 463.7,200.1 464.8,201.7 465.9,203.4 466.9,205.1 468.0,206.8 469.0,208.5 470.1,210.3 471.1,212.0 472.1,213.7 473.1,215.5 474.1,217.2 475.1,219.0 476.0,220.7 477.0,222.5 477.9,224.3 478.8,226.0 479.8,227.8 480.7,229.6 481.6,231.4 482.5,233.2 483.3,235.0 484.2,236.8 485.1,238.6 485.9,240.4 486.8,242.3 487.6,244.1 488.4,245.9 489.2,247.8 490.0,249.6 490.8,251.5 491.6,253.3 492.4,255.2 493.1,257.0 493.9,258.9 494.6,260.8 495.4,262.6 496.1,264.5 496.8,266.4 497.5,268.2 498.2,270.1 498.9,272.0 499.6,273.9 500.3,275.8 500.9,277.7 501.6,279.5 502.3,281.4 502.9,283.3 503.6,285.2 504.3,287.1 504.9,289.0 505.6,290.9 506.3,292.8 507.0,294.6 507.6,296.5 508.3,298.4 509.0,300.3 509.7,302.2 510.4,304.0 511.1,305.9 511.9,307.8 512.6,309.7 513.3,311.5 514.1,313.4 514.9,315.2 515.6,317.1 516.4,318.9 517.2,320.8 517.9,322.6 518.7,324.5 519.5,326.3 520.3,328.2 521.1,330.0 521.9,331.8 522.7,333.7 523.5,335.5 524.4,337.3 525.2,339.2 526.0,341.0 526.8,342.8 527.7,344.6 528.5,346.5 529.4,348.3 530.2,350.1 531.1,351.9 531.9,353.7 532.8,355.5 533.6,357.3 534.5,359.1 535.4,360.9 536.3,362.7 537.2,364.5 538.1,366.3 539.0,368.1 539.9,369.9 540.8,371.7 541.7,373.5 542.6,375.2 543.6,377.0 544.5,378.8 545.5,380.5 546.4,382.3 547.4,384.1 548.4,385.8 549.3,387.6 550.3,389.3 551.3,391.1 552.3,392.8 553.3,394.5 554.3,396.3 555.4,398.0 556.4,399.7 557.4,401.4 558.5,403.2 559.5,404.9 560.6,406.6 561.7,408.3 562.8,409.9 563.9,411.6 565.0,413.3 566.2,414.9 567.3,416.6 568.5,418.2 569.7,419.8 570.9,421.4 572.1,423.0 573.3,424.6 574.6,426.1 575.9,427.7 577.1,429.2 578.5,430.7 579.8,432.2 581.2,433.6 582.6,435.1 584.0,436.5 585.4,437.9 586.9,439.2 588.4,440.6 589.9,441.9 591.4,443.2 593.0,444.5 594.6,445.7" stroke="#ff0000" stroke-width="2.3"/>
<path d="M61.5,330.0 61.7,328.0 62.0,326.0 62.2,324.0 62.5,322.0 62.7,320.0 63.0,318.1 63.2,316.1 63.4,314.1 63.7,312.1 63.9,310.1 64.1,308.1 64.4,306.1 64.6,304.1 64.8,302.1 65.1,300.1 65.3,298.1 65.5,296.1 65.8,294.2 66.0,292.2 66.2,290.2 66.5,288.2 66.7,286.2 66.9,284.2 67.1,282.2 67.4,280.2 67.6,278.2 67.8,276.2 68.1,274.2 68.3,272.2 68.5,270.3 68.8,268.3 69.0,266.3 69.2,264.3 69.5,262.3 69.7,260.3 69.9,258.3 70.2,256.3 70.4,254.3 70.6,252.3 70.9,250.3 71.1,248.4 71.4,246.4 71.6,244.4 71.8,242.4 72.1,240.4 72.3,238.4 72.6,236.4 72.8,234.4 73.1,232.4 73.3,230.5 73.6,228.5 73.8,226.5 74.1,224.5 74.3,222.5 74.6,220.5 74.9,218.5 75.1,216.5 75.4,214.5 75.7,212.6 75.9,210.6 76.2,208.6 76.5,206.6 76.8,204.6 77.1,202.6 77.3,200.6 77.6,198.7 77.9,196.7 78.2,194.7 78.5,192.7 78.8,190.7 79.1,188.7 79.5,186.8 79.8,184.8 80.1,182.8 80.5,180.8 80.9,178.9 81.2,176.9 81.6,174.9 82.1,173.0 82.5,171.0 82.9,169.1 83.4,167.1 83.9,165.2 84.4,163.2 84.9,161.3 85.5,159.4 86.1,157.5 86.7,155.5 87.3,153.6 88.0,151.7 88.7,149.8 89.4,147.9 90.1,146.1 90.9,144.2 91.7,142.3 92.6,140.4 93.5,138.6 94.4,136.8 95.4,135.0 96.4,133.2 97.5,131.5 98.6,129.9 99.9,128.4 101.2,127.1 102.6,125.8 104.1,124.7 105.7,123.8 107.4,123.0 109.2,122.4 111.1,121.9 113.0,121.6 115.0,121.4 117.0,121.3 119.0,121.4 121.1,121.5 123.2,121.7 125.3,122.0 127.3,122.3 129.3,122.6 131.3,123.0 133.4,123.4 135.3,123.8 137.3,124.2 139.3,124.7 141.3,125.2 143.2,125.6 145.2,126.1 147.1,126.5 149.1,126.9 151.0,127.3 153.0,127.7 154.9,128.0 156.9,128.3 158.8,128.6 160.8,128.7 162.8,128.9 164.8,129.0 166.8,129.0 168.8,129.0 170.8,128.9 172.8,128.8 174.8,128.6 176.8,128.4 178.8,128.1 180.8,127.8 182.8,127.5 184.8,127.2 186.8,126.8 188.7,126.4 190.7,126.0 192.7,125.5 194.7,125.1 196.6,124.6 198.6,124.1 200.5,123.6 202.4,123.1 204.4,122.6 206.3,122.0 208.2,121.5 210.1,120.9 212.1,120.4 214.0,119.8 215.9,119.2 217.8,118.6 219.7,118.1 221.6,117.5 223.5,116.9 225.4,116.3 227.3,115.7 229.3,115.2 231.2,114.6 233.1,114.0 235.0,113.5 236.9,112.9 238.9,112.4 240.8,111.8 242.8,111.3 244.7,110.8 246.6,110.3 248.6,109.8 250.6,109.3 252.5,108.9 254.5,108.4 256.4,108.0 258.4,107.6 260.4,107.1 262.4,106.8 264.3,106.4 266.3,106.0 268.3,105.7 270.3,105.4 272.3,105.1 274.3,104.8 276.3,104.6 278.2,104.4 280.2,104.1 282.2,104.0 284.2,103.8 286.2,103.7 288.2,103.6 290.2,103.5 292.2,103.4 294.2,103.4 296.2,103.4 298.2,103.4 300.1,103.5 302.1,103.5 304.1,103.7 306.1,103.8 308.1,104.0 310.1,104.2 312.0,104.4 314.0,104.7 316.0,105.0 317.9,105.3 319.9,105.7 321.9,106.1 323.8,106.6 325.8,107.1 327.7,107.6 329.7,108.1 331.6,108.7 333.5,109.3 335.4,110.0 337.3,110.7 339.2,111.4 341.1,112.2 343.0,112.9 344.8,113.7 346.7,114.6 348.5,115.5 350.3,116.4 352.1,117.3 353.9,118.3 355.6,119.3 357.4,120.3 359.1,121.4 360.8,122.4 362.4,123.5 364.1,124.7 365.7,125.9 367.3,127.1 368.9,128.3 370.4,129.5 372.0,130.8 373.5,132.1 374.9,133.4 376.4,134.8 377.9,136.1 379.3,137.5 380.7,138.9 382.1,140.3 383.6,141.7 385.0,143.1 386.4,144.5 387.8,145.9 389.2,147.3 390.6,148.7 392.1,150.1 393.5,151.5 395.0,152.9 396.4,154.4 397.8,155.8 399.3,157.2 400.7,158.6 402.1,160.1 403.5,161.5 404.9,163.0 406.3,164.5 407.6,165.9 408.9,167.5 410.2,169.0 411.5,170.5 412.7,172.1 414.0,173.6 415.2,175.2 416.5,176.8 417.7,178.4 418.9,179.9 420.1,181.5 421.3,183.1 422.5,184.7 423.7,186.3 424.9,187.9 426.1,189.6 427.3,191.2 428.5,192.8 429.7,194.4 430.9,196.0 432.1,197.6 433.3,199.2 434.5,200.8 435.7,202.4 436.9,204.1 438.0,205.7 439.2,207.3 440.4,209.0 441.5,210.6 442.7,212.2 443.8,213.9 444.9,215.5 446.1,217.2 447.2,218.9 448.3,220.5 449.4,222.2 450.5,223.9 451.6,225.5 452.7,227.2 453.8,228.9 454.9,230.6 456.0,232.2 457.1,233.9 458.1,235.6 459.2,237.3 460.3,239.0 461.3,240.7 462.4,242.4 463.4,244.1 464.5,245.8 465.5,247.5 466.6,249.3 467.6,251.0 468.6,252.7 469.7,254.4 470.7,256.1 471.7,257.9 472.7,259.6 473.7,261.3 474.7,263.1 475.7,264.8 476.7,266.6 477.6,268.3 478.6,270.1 479.5,271.8 480.5,273.6 481.4,275.4 482.3,277.2 483.2,279.0 484.1,280.7 485.0,282.5 485.9,284.3 486.7,286.2 487.6,288.0 488.5,289.8 489.3,291.6 490.2,293.4 491.0,295.2 491.9,297.0 492.7,298.8 493.6,300.7 494.4,302.5 495.3,304.3 496.2,306.1 497.0,307.9 497.9,309.7 498.8,311.5 499.6,313.3 500.5,315.1 501.4,317.0 502.2,318.8 503.1,320.6 504.0,322.4 504.8,324.2 505.7,326.0 506.6,327.8 507.4,329.6 508.3,331.4 509.2,333.2 510.0,335.0 510.9,336.8 511.8,338.6 512.6,340.5 513.5,342.3 514.3,344.1 515.2,345.9 516.0,347.7 516.9,349.5 517.7,351.4 518.5,353.2 519.4,355.0 520.2,356.8 521.0,358.7 521.9,360.5 522.7,362.3 523.5,364.1 524.3,366.0 525.2,367.8 526.0,369.6 526.8,371.5 527.6,373.3 528.5,375.1 529.3,377.0 530.1,378.8 530.9,380.6 531.8,382.4 532.6,384.3 533.5,386.1 534.3,387.9 535.1,389.7 536.0,391.5 536.9,393.3 537.7,395.2 538.6,397.0 539.5,398.8 540.4,400.6 541.2,402.4 542.1,404.1 543.1,405.9 544.0,407.7 544.9,409.5 545.8,411.3 546.8,413.0 547.7,414.8 548.7,416.5 549.7,418.3 550.7,420.0 551.7,421.7 552.8,423.4 553.9,425.1 555.0,426.8 556.1,428.4 557.2,430.0 558.4,431.7 559.6,433.2 560.9,434.8 562.1,436.3 563.4,437.9 564.8,439.3 566.2,440.8 567.6,442.2 569.1,443.6 570.6,445.0" stroke="#000000" stroke-width="2.3"/>
<path d="M61.5,446.0 63.5,445.6 65.5,445.1 67.5,444.5 69.3,443.8 71.1,443.0 72.9,442.1 74.6,441.2 76.3,440.2 78.0,439.1 79.6,437.9 81.2,436.8 82.8,435.5 84.4,434.3 85.9,433.0 87.5,431.7 89.0,430.4 90.5,429.1 92.1,427.8 93.6,426.6 95.2,425.3 96.7,424.0 98.3,422.7 99.9,421.4 101.4,420.2 103.0,418.9 104.6,417.7 106.1,416.4 107.7,415.1 109.2,413.9 110.8,412.6 112.4,411.4 114.0,410.1 115.5,408.8 117.1,407.6 118.7,406.3 120.2,405.1 121.8,403.8 123.3,402.6 124.9,401.3 126.5,400.0 128.0,398.8 129.6,397.5 131.1,396.2 132.7,394.9 134.2,393.7 135.8,392.4 137.3,391.1 138.9,389.8 140.4,388.5 141.9,387.2 143.5,385.9 145.0,384.6 146.5,383.3 148.0,382.0 149.5,380.7 151.0,379.4 152.5,378.0 154.0,376.7 155.5,375.4 157.0,374.0 158.5,372.7 160.0,371.3 161.5,370.0 162.9,368.6 164.4,367.2 165.9,365.9 167.3,364.5 168.8,363.1 170.3,361.8 171.7,360.4 173.2,359.0 174.6,357.6 176.1,356.2 177.5,354.8 179.0,353.4 180.4,352.0 181.9,350.6 183.3,349.2 184.7,347.8 186.2,346.4 187.6,345.0 189.0,343.6 190.5,342.2 191.9,340.8 193.3,339.4 194.8,338.0 196.2,336.5 197.6,335.1 199.0,333.7 200.4,332.3 201.9,330.9 203.3,329.4 204.7,328.0 206.1,326.6 207.5,325.2 209.0,323.8 210.4,322.3 211.8,320.9 213.2,319.5 214.6,318.0 216.0,316.6 217.4,315.2 218.9,313.8 220.3,312.3 221.7,310.9 223.1,309.5 224.5,308.1 225.9,306.6 227.3,305.2 228.7,303.8 230.2,302.4 231.6,300.9 233.0,299.5 234.4,298.1 235.8,296.6 237.2,295.2 238.6,293.8 240.0,292.3 241.4,290.9 242.8,289.4 244.2,288.0 245.6,286.6 247.0,285.1 248.4,283.7 249.8,282.2 251.2,280.8 252.5,279.3 253.9,277.9 255.3,276.4 256.7,275.0 258.1,273.5 259.4,272.0 260.8,270.6 262.2,269.1 263.6,267.7 264.9,266.2 266.3,264.7 267.7,263.2 269.0,261.8 270.4,260.3 271.7,258.8 273.1,257.3 274.4,255.8 275.8,254.3 277.1,252.8 278.4,251.3 279.8,249.8 281.1,248.3 282.4,246.8 283.8,245.3 285.1,243.8 286.4,242.3 287.7,240.8 289.0,239.3 290.4,237.8 291.7,236.2 293.0,234.7 294.3,233.2 295.6,231.6 296.9,230.1 298.2,228.6 299.5,227.0 300.7,225.5 302.0,223.9 303.3,222.4 304.6,220.8 305.9,219.3 307.1,217.7 308.4,216.2 309.7,214.6 310.9,213.1 312.2,211.5 313.4,209.9 314.7,208.4 315.9,206.8 317.2,205.2 318.4,203.6 319.7,202.1 320.9,200.5 322.1,198.9 323.4,197.3 324.6,195.7 325.8,194.1 327.1,192.5 328.3,191.0 329.5,189.4 330.7,187.8 331.9,186.2 333.1,184.6 334.3,183.0 335.5,181.4 336.7,179.8 337.9,178.2 339.1,176.6 340.3,175.0 341.5,173.3 342.7,171.7 343.9,170.1 345.1,168.5 346.3,166.9 347.5,165.3 348.7,163.7 349.9,162.1 351.1,160.5 352.3,158.9 353.5,157.3 354.7,155.7 356.0,154.1 357.2,152.5 358.4,150.9 359.6,149.3 360.8,147.7 362.0,146.1 363.2,144.5 364.5,142.9 365.7,141.3 366.9,139.7 368.1,138.1 369.3,136.5 370.5,134.9 371.7,133.3 372.9,131.7 374.1,130.1 375.3,128.4 376.5,126.8 377.7,125.2 378.9,123.6 380.1,122.0 381.2,120.4 382.4,118.7 383.6,117.1 384.7,115.5 385.9,113.8 387.1,112.2 388.2,110.6 389.4,108.9 390.5,107.3 391.7,105.7 392.9,104.0 394.1,102.4 395.2,100.8 396.4,99.2 397.6,97.5 398.8,95.9 400.0,94.3 401.2,92.7 402.5,91.1 403.7,89.5 405.0,88.0 406.2,86.4 407.5,84.8 408.9,83.3 410.2,81.8 411.6,80.4 413.0,78.9 414.5,77.5 416.0,76.2 417.5,74.9 419.0,73.6 420.6,72.4 422.2,71.2 423.9,70.1 425.6,69.1 427.3,68.1 429.1,67.1 430.8,66.3 432.6,65.5 434.5,64.8 436.3,64.1 438.2,63.5 440.1,63.0 442.0,62.5 444.0,62.0 445.9,61.6 447.9,61.3 449.9,60.9 451.9,60.7 453.9,60.4 455.9,60.2 457.9,60.0 459.9,59.8 462.0,59.7 464.0,59.6 466.0,59.5 468.1,59.4 470.1,59.3 472.1,59.2 474.1,59.1 476.1,59.0 478.1,59.0 480.1,58.9 482.2,58.9 484.2,58.8 486.2,58.8 488.2,58.8 490.2,58.7 492.2,58.7 494.2,58.7 496.2,58.7 498.2,58.7 500.2,58.7 502.2,58.6 504.2,58.6 506.2,58.6 508.2,58.6 510.2,58.6 512.2,58.6 514.2,58.6 516.2,58.6 518.2,58.6 520.2,58.6 522.2,58.6 524.2,58.6 526.2,58.6 528.2,58.6 530.2,58.5 532.2,58.5 534.2,58.5 536.2,58.5 538.3,58.5 540.3,58.5 542.3,58.5 544.3,58.4 546.3,58.4 548.3,58.4 550.3,58.4 552.3,58.3 554.3,58.3 556.4,58.3 558.4,58.2 560.4,58.2 562.4,58.1 564.4,58.1 566.4,58.0 568.4,58.0 570.4,57.9 572.4,57.9 574.5,57.8 576.5,57.7 578.5,57.7 580.5,57.6 582.5,57.5 584.5,57.4 586.5,57.3 588.5,57.2 590.5,57.1 592.5,57.0 594.5,56.9 596.5,56.8 598.5,56.7 600.5,56.5 602.5,56.4" stroke="#ff0000" stroke-width="2.4" stroke-dasharray="10 9.15" stroke-dashoffset="8.70"/>
<path d="M61.5,446.0 63.4,445.5 65.2,444.8 67.0,444.0 68.8,443.2 70.6,442.2 72.3,441.2 73.9,440.1 75.6,439.0 77.3,437.9 78.9,436.7 80.5,435.5 82.2,434.4 83.8,433.2 85.4,432.0 87.0,430.8 88.7,429.6 90.3,428.4 91.9,427.2 93.5,426.0 95.1,424.9 96.7,423.7 98.4,422.5 100.0,421.3 101.6,420.1 103.3,419.0 104.9,417.8 106.6,416.7 108.2,415.5 109.9,414.4 111.5,413.2 113.2,412.1 114.9,411.0 116.5,409.8 118.2,408.7 119.9,407.6 121.5,406.4 123.2,405.3 124.9,404.2 126.5,403.0 128.2,401.9 129.8,400.7 131.5,399.6 133.1,398.4 134.7,397.2 136.4,396.0 138.0,394.8 139.6,393.6 141.2,392.4 142.8,391.2 144.4,390.0 145.9,388.7 147.5,387.5 149.1,386.2 150.6,385.0 152.2,383.7 153.7,382.4 155.3,381.2 156.8,379.9 158.3,378.6 159.9,377.3 161.4,375.9 162.9,374.6 164.4,373.3 165.9,372.0 167.4,370.6 168.9,369.3 170.4,368.0 171.9,366.6 173.3,365.3 174.8,363.9 176.3,362.5 177.8,361.2 179.2,359.8 180.7,358.4 182.1,357.0 183.6,355.6 185.1,354.3 186.5,352.9 188.0,351.5 189.4,350.1 190.8,348.7 192.3,347.3 193.7,345.9 195.2,344.5 196.6,343.1 198.0,341.7 199.5,340.3 200.9,338.9 202.3,337.5 203.8,336.0 205.2,334.6 206.6,333.2 208.1,331.8 209.5,330.4 210.9,329.0 212.4,327.6 213.8,326.2 215.2,324.8 216.6,323.3 218.1,321.9 219.5,320.5 220.9,319.1 222.3,317.7 223.8,316.2 225.2,314.8 226.6,313.4 228.0,312.0 229.4,310.5 230.8,309.1 232.3,307.7 233.7,306.3 235.1,304.8 236.5,303.4 237.9,302.0 239.3,300.5 240.7,299.1 242.1,297.7 243.5,296.2 244.9,294.8 246.3,293.3 247.7,291.9 249.1,290.4 250.5,289.0 251.9,287.6 253.3,286.1 254.7,284.7 256.1,283.2 257.4,281.7 258.8,280.3 260.2,278.8 261.6,277.4 263.0,275.9 264.3,274.4 265.7,273.0 267.1,271.5 268.5,270.0 269.8,268.6 271.2,267.1 272.6,265.6 273.9,264.2 275.3,262.7 276.6,261.2 278.0,259.7 279.3,258.2 280.7,256.7 282.0,255.3 283.4,253.8 284.7,252.3 286.1,250.8 287.4,249.3 288.7,247.8 290.1,246.3 291.4,244.8 292.7,243.3 294.0,241.8 295.4,240.2 296.7,238.7 298.0,237.2 299.3,235.7 300.6,234.2 301.9,232.7 303.2,231.1 304.5,229.6 305.8,228.1 307.1,226.5 308.4,225.0 309.7,223.5 311.0,221.9 312.3,220.4 313.6,218.8 314.8,217.3 316.1,215.7 317.4,214.2 318.6,212.6 319.9,211.1 321.2,209.5 322.4,207.9 323.7,206.4 324.9,204.8 326.2,203.2 327.4,201.6 328.7,200.1 329.9,198.5 331.2,196.9 332.4,195.3 333.7,193.7 334.9,192.2 336.1,190.6 337.4,189.0 338.6,187.4 339.8,185.8 341.1,184.2 342.3,182.6 343.5,181.0 344.7,179.4 346.0,177.9 347.2,176.3 348.4,174.7 349.6,173.1 350.9,171.5 352.1,169.9 353.3,168.3 354.5,166.7 355.8,165.1 357.0,163.5 358.2,161.9 359.4,160.3 360.7,158.7 361.9,157.2 363.1,155.6 364.4,154.0 365.6,152.4 366.8,150.8 368.1,149.2 369.3,147.6 370.5,146.1 371.8,144.5 373.0,142.9 374.3,141.3 375.5,139.8 376.8,138.2 378.0,136.6 379.3,135.1 380.5,133.5 381.8,131.9 383.0,130.4 384.3,128.8 385.5,127.2 386.8,125.7 388.1,124.1 389.3,122.5 390.6,121.0 391.8,119.4 393.1,117.8 394.3,116.3 395.6,114.7 396.8,113.1 398.1,111.5 399.3,109.9 400.5,108.4 401.8,106.8 403.0,105.2 404.2,103.6 405.4,102.0 406.7,100.4 408.0,98.8 409.3,97.3 410.6,95.8 411.9,94.3 413.3,92.8 414.7,91.3 416.2,89.9 417.6,88.6 419.2,87.2 420.7,86.0 422.3,84.8 423.9,83.6 425.6,82.5 427.3,81.5 429.0,80.6 430.8,79.7 432.6,78.9 434.4,78.1 436.3,77.5 438.2,76.8 440.1,76.3 442.0,75.7 443.9,75.3 445.9,74.8 447.9,74.4 449.8,74.1 451.8,73.8 453.9,73.5 455.9,73.2 457.9,73.0 459.9,72.8 461.9,72.6 464.0,72.5 466.0,72.3 468.0,72.2 470.0,72.0 472.0,71.9 474.0,71.8 476.0,71.7 478.0,71.6 480.1,71.6 482.1,71.5 484.1,71.5 486.1,71.4 488.1,71.4 490.1,71.4 492.1,71.3 494.1,71.3 496.1,71.3 498.1,71.3 500.1,71.3 502.1,71.3 504.1,71.3 506.1,71.3 508.1,71.3 510.1,71.3 512.1,71.3 514.1,71.4 516.1,71.4 518.1,71.4 520.1,71.4 522.1,71.4 524.1,71.4 526.1,71.4 528.1,71.5 530.2,71.5 532.2,71.5 534.2,71.5 536.2,71.5 538.2,71.6 540.2,71.6 542.2,71.6 544.2,71.6 546.2,71.7 548.3,71.7 550.3,71.7 552.3,71.7 554.3,71.8 556.3,71.8 558.3,71.8 560.3,71.8 562.3,71.9 564.4,71.9 566.4,71.9 568.4,72.0 570.4,72.0 572.4,72.0 574.4,72.1 576.4,72.1 578.4,72.1 580.4,72.2 582.4,72.2 584.5,72.2 586.5,72.3 588.5,72.3 590.5,72.4 592.5,72.4 594.5,72.4 596.5,72.5 598.5,72.5 600.5,72.6 602.5,72.6" stroke="#0000ff" stroke-width="2.4" stroke-dasharray="10 9.15" stroke-dashoffset="2.60"/>
<path d="M61.5,446.0 63.2,445.0 65.0,444.0 66.7,442.9 68.4,441.9 70.1,440.8 71.8,439.7 73.5,438.7 75.1,437.6 76.8,436.4 78.5,435.3 80.1,434.2 81.8,433.0 83.4,431.9 85.0,430.7 86.6,429.5 88.3,428.3 89.9,427.1 91.5,425.9 93.1,424.7 94.7,423.5 96.2,422.3 97.8,421.0 99.4,419.8 101.0,418.5 102.5,417.3 104.1,416.0 105.6,414.7 107.2,413.4 108.7,412.2 110.3,410.9 111.8,409.6 113.3,408.3 114.9,407.0 116.4,405.7 117.9,404.4 119.5,403.1 121.0,401.7 122.5,400.4 124.0,399.1 125.5,397.8 127.0,396.5 128.6,395.1 130.1,393.8 131.6,392.5 133.1,391.2 134.6,389.8 136.1,388.5 137.6,387.2 139.1,385.9 140.6,384.5 142.1,383.2 143.6,381.9 145.1,380.6 146.6,379.2 148.1,377.9 149.6,376.6 151.1,375.2 152.6,373.9 154.1,372.6 155.6,371.2 157.1,369.9 158.6,368.6 160.1,367.2 161.6,365.9 163.1,364.6 164.6,363.2 166.1,361.9 167.7,360.6 169.2,359.2 170.7,357.9 172.2,356.6 173.7,355.2 175.2,353.9 176.7,352.6 178.2,351.2 179.7,349.9 181.2,348.6 182.7,347.3 184.2,345.9 185.7,344.6 187.2,343.3 188.7,342.0 190.2,340.6 191.7,339.3 193.2,338.0 194.8,336.6 196.3,335.3 197.8,334.0 199.3,332.7 200.8,331.3 202.3,330.0 203.8,328.6 205.3,327.3 206.8,326.0 208.2,324.6 209.7,323.2 211.2,321.9 212.7,320.5 214.2,319.2 215.6,317.8 217.1,316.4 218.5,315.0 220.0,313.6 221.4,312.2 222.9,310.8 224.3,309.4 225.7,308.0 227.1,306.6 228.6,305.2 230.0,303.8 231.4,302.3 232.8,300.9 234.2,299.4 235.6,298.0 237.0,296.5 238.3,295.1 239.7,293.6 241.1,292.2 242.5,290.7 243.9,289.3 245.2,287.8 246.6,286.3 248.0,284.9 249.4,283.4 250.7,281.9 252.1,280.5 253.5,279.0 254.9,277.5 256.2,276.1 257.6,274.6 259.0,273.2 260.4,271.7 261.8,270.3 263.2,268.8 264.6,267.4 266.0,265.9 267.4,264.5 268.8,263.0 270.2,261.6 271.6,260.2 273.0,258.8 274.4,257.3 275.8,255.9 277.2,254.5 278.7,253.1 280.1,251.7 281.5,250.3 282.9,248.9 284.4,247.5 285.8,246.1 287.3,244.7 288.7,243.3 290.2,241.9 291.6,240.5 293.1,239.1 294.6,237.8 296.0,236.4 297.5,235.0 299.0,233.7 300.4,232.3 301.9,230.9 303.4,229.6 304.8,228.2 306.3,226.8 307.7,225.4 309.2,224.0 310.6,222.6 312.0,221.2 313.4,219.7 314.8,218.3 316.2,216.8 317.5,215.3 318.9,213.9 320.2,212.4 321.5,210.9 322.9,209.4 324.2,207.8 325.5,206.3 326.8,204.8 328.1,203.3 329.5,201.8 330.8,200.3 332.1,198.8 333.4,197.2 334.8,195.7 336.1,194.3 337.5,192.8 338.8,191.3 340.2,189.8 341.6,188.4 343.0,187.0 344.4,185.5 345.8,184.1 347.2,182.7 348.7,181.3 350.1,179.9 351.5,178.5 353.0,177.2 354.4,175.8 355.9,174.4 357.3,173.0 358.8,171.6 360.3,170.3 361.7,168.9 363.2,167.5 364.6,166.1 366.1,164.8 367.5,163.4 369.0,162.0 370.4,160.6 371.9,159.2 373.3,157.8 374.7,156.4 376.2,155.0 377.6,153.6 379.1,152.2 380.5,150.8 382.0,149.4 383.4,148.0 384.9,146.6 386.3,145.2 387.8,143.8 389.3,142.5 390.8,141.1 392.3,139.7 393.8,138.4 395.3,137.0 396.9,135.7 398.4,134.4 400.0,133.1 401.6,131.8 403.2,130.6 404.8,129.4 406.5,128.2 408.1,127.1 409.8,126.0 411.5,125.0 413.2,124.0 415.0,123.1 416.7,122.2 418.5,121.5 420.4,120.8 422.2,120.1 424.1,119.6 426.0,119.1 427.9,118.7 429.8,118.3 431.7,118.0 433.7,117.8 435.7,117.6 437.7,117.5 439.7,117.4 441.7,117.4 443.7,117.4 445.7,117.4 447.7,117.5 449.8,117.5 451.8,117.6 453.8,117.7 455.9,117.8 457.9,117.8 459.9,117.9 461.9,118.0 464.0,118.0 466.0,118.1 468.0,118.1 470.0,118.1 472.0,118.2 474.0,118.2 476.1,118.2 478.1,118.2 480.1,118.2 482.1,118.3 484.1,118.3 486.1,118.3 488.1,118.3 490.1,118.3 492.1,118.2 494.1,118.2 496.1,118.2 498.1,118.2 500.1,118.2 502.1,118.2 504.1,118.2 506.1,118.1 508.1,118.1 510.1,118.1 512.1,118.1 514.1,118.0 516.1,118.0 518.1,118.0 520.2,118.0 522.2,117.9 524.2,117.9 526.2,117.9 528.2,117.8 530.2,117.8 532.2,117.8 534.2,117.8 536.2,117.7 538.2,117.7 540.2,117.7 542.2,117.6 544.3,117.6 546.3,117.6 548.3,117.5 550.3,117.5 552.3,117.5 554.3,117.4 556.3,117.4 558.3,117.3 560.3,117.3 562.3,117.3 564.4,117.2 566.4,117.2 568.4,117.2 570.4,117.1 572.4,117.1 574.4,117.1 576.4,117.0 578.4,117.0 580.4,117.0 582.4,116.9 584.4,116.9 586.5,116.9 588.5,116.8 590.5,116.8 592.5,116.8 594.5,116.7 596.5,116.7 598.5,116.7 600.5,116.6 602.5,116.6" stroke="#b35900" stroke-width="2.4" stroke-dasharray="10 9.15" stroke-dashoffset="10.60"/>
<path d="M61.5,446.0 63.2,445.0 65.0,444.0 66.7,442.9 68.4,441.9 70.1,440.8 71.8,439.7 73.5,438.6 75.2,437.5 76.8,436.4 78.5,435.2 80.1,434.1 81.8,432.9 83.4,431.7 85.0,430.6 86.6,429.4 88.2,428.2 89.8,426.9 91.4,425.7 93.0,424.5 94.6,423.3 96.1,422.0 97.7,420.8 99.3,419.5 100.8,418.2 102.4,417.0 103.9,415.7 105.4,414.4 107.0,413.1 108.5,411.8 110.0,410.5 111.6,409.2 113.1,407.9 114.6,406.6 116.2,405.3 117.7,404.0 119.2,402.7 120.7,401.4 122.2,400.0 123.8,398.7 125.3,397.4 126.8,396.1 128.3,394.8 129.8,393.5 131.4,392.2 132.9,390.8 134.4,389.5 135.9,388.2 137.4,386.9 139.0,385.6 140.5,384.3 142.0,383.0 143.5,381.7 145.1,380.3 146.6,379.0 148.1,377.7 149.6,376.4 151.1,375.1 152.7,373.8 154.2,372.5 155.7,371.1 157.2,369.8 158.7,368.5 160.3,367.2 161.8,365.9 163.3,364.6 164.8,363.2 166.3,361.9 167.8,360.6 169.3,359.3 170.8,357.9 172.3,356.6 173.9,355.3 175.4,354.0 176.9,352.6 178.4,351.3 179.9,350.0 181.4,348.6 182.9,347.3 184.4,345.9 185.9,344.6 187.3,343.3 188.8,341.9 190.3,340.6 191.8,339.2 193.3,337.9 194.8,336.5 196.2,335.1 197.7,333.8 199.2,332.4 200.7,331.0 202.1,329.7 203.6,328.3 205.1,326.9 206.5,325.6 208.0,324.2 209.5,322.8 210.9,321.4 212.4,320.0 213.8,318.6 215.3,317.3 216.7,315.9 218.1,314.5 219.6,313.1 221.0,311.7 222.5,310.3 223.9,308.9 225.3,307.5 226.8,306.1 228.2,304.6 229.6,303.2 231.0,301.8 232.5,300.4 233.9,299.0 235.3,297.6 236.7,296.1 238.1,294.7 239.6,293.3 241.0,291.9 242.4,290.4 243.8,289.0 245.2,287.6 246.6,286.1 248.0,284.7 249.4,283.2 250.8,281.8 252.2,280.3 253.6,278.9 255.0,277.5 256.3,276.0 257.7,274.5 259.1,273.1 260.5,271.6 261.9,270.2 263.3,268.7 264.6,267.3 266.0,265.8 267.4,264.3 268.8,262.9 270.1,261.4 271.5,259.9 272.9,258.5 274.2,257.0 275.6,255.5 277.0,254.0 278.3,252.6 279.7,251.1 281.1,249.6 282.4,248.1 283.8,246.7 285.1,245.2 286.5,243.7 287.9,242.2 289.2,240.7 290.6,239.3 291.9,237.8 293.3,236.3 294.7,234.8 296.0,233.3 297.4,231.9 298.7,230.4 300.1,228.9 301.4,227.4 302.8,225.9 304.1,224.4 305.5,223.0 306.9,221.5 308.2,220.0 309.6,218.5 310.9,217.0 312.3,215.6 313.7,214.1 315.0,212.6 316.4,211.1 317.7,209.6 319.1,208.2 320.4,206.7 321.8,205.2 323.2,203.7 324.5,202.2 325.9,200.8 327.2,199.3 328.6,197.8 330.0,196.3 331.3,194.8 332.7,193.4 334.0,191.9 335.4,190.4 336.7,188.9 338.1,187.4 339.4,185.9 340.8,184.4 342.1,183.0 343.5,181.5 344.8,180.0 346.1,178.5 347.5,177.0 348.8,175.5 350.2,174.0 351.5,172.5 352.8,171.0 354.2,169.5 355.5,168.0 356.8,166.5 358.1,165.0 359.4,163.4 360.8,161.9 362.1,160.4 363.4,158.9 364.7,157.4 366.0,155.8 367.3,154.3 368.6,152.8 369.9,151.2 371.2,149.7 372.5,148.2 373.8,146.7 375.1,145.2 376.4,143.7 377.8,142.2 379.1,140.7 380.5,139.2 381.9,137.8 383.3,136.4 384.8,135.0 386.2,133.6 387.7,132.2 389.1,130.8 390.6,129.4 392.0,128.0 393.5,126.7 394.9,125.3 396.4,123.9 397.8,122.5 399.2,121.0 400.7,119.6 402.1,118.2 403.5,116.8 405.0,115.4 406.4,114.0 407.8,112.6 409.3,111.2 410.8,109.9 412.2,108.5 413.7,107.2 415.2,105.8 416.7,104.5 418.3,103.2 419.8,101.9 421.4,100.7 423.0,99.5 424.6,98.3 426.3,97.1 428.0,96.0 429.7,94.9 431.4,93.8 433.2,92.8 434.9,91.9 436.7,91.0 438.6,90.2 440.4,89.5 442.3,88.8 444.2,88.2 446.1,87.7 448.0,87.3 450.0,86.9 452.0,86.6 453.9,86.3 455.9,86.1 457.9,85.9 459.9,85.7 461.9,85.5 463.9,85.4 465.9,85.3 467.9,85.2 469.9,85.1 471.9,85.0 473.9,85.0 475.9,84.9 477.9,84.9 479.9,84.9 481.9,84.8 484.0,84.8 486.0,84.8 488.0,84.8 490.0,84.9 492.0,84.9 494.0,84.9 496.0,84.9 498.0,84.9 500.1,84.9 502.1,85.0 504.1,85.0 506.1,85.0 508.1,85.0 510.1,85.0 512.1,85.0 514.1,85.0 516.2,85.0 518.2,85.0 520.2,85.0 522.2,85.0 524.2,85.0 526.2,85.0 528.2,84.9 530.2,84.9 532.2,84.9 534.2,84.9 536.2,84.9 538.2,84.9 540.2,84.8 542.3,84.8 544.3,84.8 546.3,84.8 548.3,84.8 550.3,84.7 552.3,84.7 554.3,84.7 556.3,84.7 558.3,84.7 560.3,84.7 562.3,84.6 564.3,84.6 566.3,84.6 568.3,84.6 570.3,84.6 572.4,84.5 574.4,84.5 576.4,84.5 578.4,84.5 580.4,84.5 582.4,84.5 584.4,84.5 586.4,84.5 588.4,84.5 590.4,84.5 592.4,84.5 594.5,84.5 596.5,84.5 598.5,84.5 600.5,84.5 602.5,84.5" stroke="#000000" stroke-width="2.4" stroke-dasharray="10 9.15" stroke-dashoffset="11.00"/>
<path d="M61.5,446.0 63.5,445.6 65.5,445.1 67.4,444.5 69.3,443.8 71.1,443.0 72.9,442.1 74.6,441.2 76.3,440.2 78.0,439.1 79.6,438.0 81.3,436.9 82.9,435.7 84.5,434.5 86.0,433.3 87.6,432.0 89.1,430.7 90.7,429.4 92.2,428.1 93.7,426.8 95.3,425.5 96.8,424.2 98.4,422.9 99.9,421.6 101.5,420.3 103.0,419.0 104.6,417.8 106.1,416.5 107.7,415.2 109.3,414.0 110.9,412.7 112.4,411.5 114.0,410.2 115.6,409.0 117.2,407.8 118.8,406.5 120.3,405.3 121.9,404.0 123.5,402.8 125.1,401.6 126.7,400.3 128.2,399.1 129.8,397.8 131.4,396.6 132.9,395.3 134.5,394.0 136.0,392.8 137.6,391.5 139.1,390.2 140.6,388.9 142.2,387.6 143.7,386.3 145.2,385.0 146.7,383.7 148.2,382.3 149.7,381.0 151.2,379.7 152.7,378.3 154.2,377.0 155.7,375.6 157.1,374.3 158.6,372.9 160.1,371.5 161.5,370.2 163.0,368.8 164.5,367.4 165.9,366.0 167.4,364.6 168.8,363.2 170.3,361.8 171.7,360.4 173.1,359.0 174.6,357.6 176.0,356.2 177.5,354.8 178.9,353.4 180.3,352.0 181.8,350.6 183.2,349.2 184.6,347.8 186.0,346.4 187.5,345.0 188.9,343.5 190.3,342.1 191.8,340.7 193.2,339.3 194.6,337.9 196.0,336.5 197.5,335.1 198.9,333.7 200.3,332.2 201.8,330.8 203.2,329.4 204.6,328.0 206.0,326.6 207.5,325.2 208.9,323.8 210.3,322.4 211.8,321.0 213.2,319.6 214.6,318.2 216.1,316.8 217.5,315.3 218.9,313.9 220.4,312.5 221.8,311.1 223.2,309.7 224.7,308.3 226.1,306.9 227.5,305.5 228.9,304.1 230.4,302.6 231.8,301.2 233.2,299.8 234.6,298.4 236.0,297.0 237.5,295.6 238.9,294.1 240.3,292.7 241.7,291.3 243.1,289.9 244.5,288.4 245.9,287.0 247.3,285.6 248.7,284.1 250.1,282.7 251.5,281.3 252.9,279.8 254.3,278.4 255.7,276.9 257.1,275.5 258.5,274.0 259.9,272.6 261.3,271.1 262.7,269.7 264.0,268.2 265.4,266.8 266.8,265.3 268.2,263.8 269.5,262.4 270.9,260.9 272.3,259.4 273.6,257.9 275.0,256.5 276.4,255.0 277.7,253.5 279.1,252.0 280.4,250.6 281.8,249.1 283.2,247.6 284.5,246.1 285.9,244.6 287.2,243.2 288.6,241.7 289.9,240.2 291.3,238.7 292.7,237.2 294.0,235.8 295.4,234.3 296.7,232.8 298.1,231.3 299.5,229.8 300.8,228.4 302.2,226.9 303.6,225.4 304.9,223.9 306.3,222.5 307.7,221.0 309.0,219.5 310.4,218.1 311.8,216.6 313.2,215.1 314.5,213.7 315.9,212.2 317.3,210.8 318.7,209.3 320.1,207.9 321.5,206.4 322.9,205.0 324.3,203.5 325.6,202.1 327.0,200.6 328.4,199.2 329.8,197.8 331.3,196.3 332.7,194.9 334.1,193.5 335.5,192.1 336.9,190.6 338.3,189.2 339.7,187.8 341.1,186.4 342.6,184.9 344.0,183.5 345.4,182.1 346.8,180.7 348.3,179.3 349.7,177.9 351.1,176.5 352.6,175.1 354.0,173.7 355.4,172.3 356.9,170.9 358.3,169.5 359.8,168.1 361.2,166.7 362.7,165.3 364.1,163.9 365.6,162.6 367.1,161.2 368.5,159.8 370.0,158.4 371.4,157.1 372.9,155.7 374.4,154.3 375.9,152.9 377.3,151.6 378.8,150.2 380.3,148.9 381.8,147.5 383.3,146.2 384.8,144.9 386.3,143.6 387.9,142.3 389.4,141.0 391.0,139.7 392.5,138.4 394.1,137.2 395.7,136.0 397.3,134.7 398.9,133.5 400.5,132.4 402.2,131.2 403.8,130.1 405.5,128.9 407.2,127.8 408.9,126.8 410.6,125.7 412.4,124.7 414.1,123.7 415.9,122.8 417.7,121.8 419.5,120.9 421.3,120.1 423.1,119.3 425.0,118.5 426.8,117.7 428.7,117.1 430.5,116.4 432.4,115.8 434.3,115.2 436.2,114.7 438.1,114.2 440.1,113.7 442.0,113.3 443.9,112.9 445.9,112.5 447.8,112.2 449.8,111.9 451.8,111.6 453.8,111.4 455.7,111.1 457.7,110.9 459.7,110.7 461.7,110.6 463.7,110.4 465.7,110.3 467.8,110.2 469.8,110.1 471.8,110.1 473.8,110.0 475.9,110.0 477.9,109.9 479.9,109.9 481.9,109.9 484.0,109.9 486.0,109.9 488.0,109.9 490.1,109.9 492.1,109.9 494.1,109.9 496.2,109.9 498.2,110.0 500.2,110.0 502.2,110.0 504.3,110.0 506.3,110.0 508.3,110.0 510.3,110.0 512.3,109.9 514.3,109.9 516.3,109.9 518.3,109.9 520.3,109.9 522.3,109.9 524.3,109.9 526.3,109.8 528.3,109.8 530.3,109.8 532.3,109.8 534.3,109.8 536.3,109.7 538.3,109.7 540.3,109.7 542.3,109.7 544.3,109.6 546.3,109.6 548.3,109.6 550.3,109.6 552.3,109.5 554.3,109.5 556.3,109.5 558.3,109.5 560.3,109.4 562.3,109.4 564.3,109.4 566.3,109.4 568.3,109.4 570.3,109.3 572.3,109.3 574.3,109.3 576.3,109.3 578.3,109.3 580.3,109.3 582.3,109.3 584.3,109.2 586.3,109.2 588.3,109.2 590.3,109.2 592.4,109.2 594.4,109.3 596.4,109.3 598.4,109.3 600.5,109.3 602.5,109.3" stroke="#ff8000" stroke-width="2.4" stroke-dasharray="10 9.15" stroke-dashoffset="8.80"/>
<path d="M61.5,446.0 63.3,445.3 65.1,444.5 66.9,443.7 68.7,442.8 70.5,441.9 72.2,440.9 73.9,439.9 75.6,438.9 77.3,437.8 79.0,436.8 80.7,435.7 82.4,434.6 84.0,433.4 85.7,432.3 87.3,431.1 88.9,429.9 90.6,428.7 92.2,427.5 93.8,426.3 95.4,425.1 97.0,423.8 98.6,422.6 100.2,421.3 101.8,420.1 103.3,418.8 104.9,417.5 106.5,416.3 108.0,415.0 109.6,413.7 111.2,412.5 112.7,411.2 114.3,409.9 115.8,408.6 117.4,407.4 118.9,406.1 120.5,404.8 122.0,403.5 123.6,402.2 125.1,400.9 126.6,399.7 128.2,398.4 129.7,397.1 131.3,395.8 132.8,394.5 134.3,393.2 135.9,391.9 137.4,390.6 138.9,389.3 140.5,388.0 142.0,386.8 143.6,385.5 145.1,384.2 146.6,382.9 148.2,381.6 149.7,380.3 151.3,379.0 152.8,377.7 154.3,376.4 155.9,375.1 157.4,373.8 159.0,372.5 160.5,371.2 162.0,369.9 163.6,368.6 165.1,367.3 166.6,366.0 168.2,364.7 169.7,363.4 171.2,362.1 172.7,360.7 174.3,359.4 175.8,358.1 177.3,356.8 178.8,355.4 180.3,354.1 181.8,352.8 183.3,351.4 184.8,350.1 186.3,348.8 187.8,347.4 189.3,346.1 190.8,344.7 192.3,343.3 193.8,342.0 195.2,340.6 196.7,339.2 198.2,337.9 199.6,336.5 201.1,335.1 202.5,333.7 204.0,332.3 205.4,330.9 206.9,329.5 208.3,328.1 209.8,326.7 211.2,325.3 212.6,323.9 214.0,322.5 215.5,321.0 216.9,319.6 218.3,318.2 219.7,316.8 221.1,315.3 222.5,313.9 223.9,312.4 225.3,311.0 226.7,309.6 228.1,308.1 229.5,306.7 230.9,305.2 232.3,303.7 233.6,302.3 235.0,300.8 236.4,299.4 237.8,297.9 239.2,296.4 240.5,295.0 241.9,293.5 243.3,292.0 244.7,290.6 246.0,289.1 247.4,287.6 248.8,286.2 250.2,284.7 251.5,283.2 252.9,281.7 254.3,280.3 255.6,278.8 257.0,277.3 258.4,275.8 259.8,274.4 261.1,272.9 262.5,271.4 263.9,270.0 265.2,268.5 266.6,267.0 268.0,265.5 269.4,264.1 270.7,262.6 272.1,261.1 273.5,259.7 274.9,258.2 276.3,256.7 277.6,255.3 279.0,253.8 280.4,252.3 281.8,250.9 283.2,249.4 284.5,247.9 285.9,246.5 287.3,245.0 288.7,243.6 290.0,242.1 291.4,240.6 292.8,239.2 294.2,237.7 295.6,236.2 296.9,234.8 298.3,233.3 299.7,231.8 301.1,230.3 302.4,228.9 303.8,227.4 305.2,225.9 306.5,224.5 307.9,223.0 309.3,221.5 310.6,220.0 312.0,218.6 313.4,217.1 314.7,215.6 316.1,214.1 317.5,212.6 318.8,211.2 320.2,209.7 321.5,208.2 322.9,206.7 324.2,205.2 325.6,203.7 326.9,202.3 328.3,200.8 329.6,199.3 331.0,197.8 332.3,196.3 333.7,194.8 335.0,193.3 336.4,191.8 337.7,190.3 339.1,188.8 340.4,187.3 341.8,185.8 343.1,184.4 344.4,182.9 345.8,181.4 347.1,179.9 348.5,178.4 349.8,176.9 351.2,175.4 352.5,173.9 353.8,172.4 355.2,170.9 356.5,169.4 357.9,167.9 359.2,166.4 360.5,164.9 361.9,163.4 363.2,161.9 364.6,160.4 365.9,158.9 367.3,157.4 368.6,155.9 369.9,154.4 371.3,152.9 372.6,151.4 374.0,149.9 375.3,148.4 376.7,146.9 378.0,145.4 379.4,143.9 380.8,142.4 382.1,141.0 383.5,139.5 384.9,138.0 386.3,136.6 387.7,135.1 389.1,133.7 390.5,132.3 392.0,130.9 393.4,129.5 394.9,128.1 396.4,126.7 397.9,125.4 399.4,124.0 400.9,122.7 402.4,121.4 404.0,120.1 405.5,118.9 407.1,117.6 408.7,116.5 410.4,115.3 412.0,114.2 413.7,113.1 415.4,112.1 417.2,111.1 418.9,110.2 420.7,109.4 422.5,108.5 424.3,107.8 426.2,107.1 428.0,106.4 429.9,105.8 431.9,105.2 433.8,104.7 435.7,104.2 437.7,103.7 439.7,103.3 441.6,102.9 443.6,102.6 445.6,102.3 447.6,102.0 449.7,101.7 451.7,101.4 453.7,101.2 455.7,101.0 457.7,100.8 459.7,100.6 461.8,100.5 463.8,100.3 465.8,100.2 467.8,100.0 469.8,99.9 471.8,99.8 473.8,99.7 475.8,99.7 477.8,99.6 479.9,99.5 481.9,99.5 483.9,99.4 485.9,99.4 487.9,99.4 489.9,99.3 491.9,99.3 493.9,99.3 495.9,99.3 497.9,99.3 499.9,99.3 501.9,99.3 503.9,99.3 505.9,99.3 507.9,99.3 510.0,99.3 512.0,99.3 514.0,99.3 516.0,99.3 518.0,99.3 520.0,99.3 522.0,99.3 524.0,99.3 526.0,99.3 528.1,99.3 530.1,99.4 532.1,99.4 534.1,99.4 536.1,99.4 538.1,99.4 540.1,99.4 542.1,99.4 544.2,99.5 546.2,99.5 548.2,99.5 550.2,99.5 552.2,99.5 554.2,99.6 556.2,99.6 558.2,99.6 560.3,99.6 562.3,99.6 564.3,99.6 566.3,99.7 568.3,99.7 570.3,99.7 572.3,99.7 574.4,99.7 576.4,99.7 578.4,99.7 580.4,99.8 582.4,99.8 584.4,99.8 586.4,99.8 588.4,99.8 590.4,99.8 592.5,99.8 594.5,99.8 596.5,99.8 598.5,99.8 600.5,99.8 602.5,99.8" stroke="#ff00ff" stroke-width="2.4" stroke-dasharray="10 9.15" stroke-dashoffset="0.00"/>
<path d="M61.5,444.0 63.1,442.8 64.7,441.6 66.3,440.3 67.9,439.1 69.4,437.9 71.0,436.6 72.6,435.4 74.2,434.1 75.7,432.9 77.3,431.6 78.8,430.3 80.4,429.0 81.9,427.8 83.5,426.5 85.0,425.2 86.6,423.9 88.1,422.7 89.6,421.4 91.2,420.1 92.7,418.8 94.3,417.5 95.8,416.2 97.4,415.0 98.9,413.7 100.5,412.4 102.0,411.2 103.6,409.9 105.1,408.6 106.7,407.4 108.2,406.1 109.8,404.9 111.4,403.6 112.9,402.4 114.5,401.1 116.1,399.9 117.7,398.6 119.2,397.4 120.8,396.1 122.4,394.9 123.9,393.6 125.5,392.4 127.1,391.1 128.6,389.8 130.2,388.6 131.7,387.3 133.3,386.0 134.8,384.8 136.4,383.5 137.9,382.2 139.5,380.9 141.0,379.6 142.5,378.3 144.0,377.0 145.6,375.7 147.1,374.4 148.6,373.1 150.1,371.8 151.6,370.5 153.1,369.2 154.7,367.8 156.2,366.5 157.7,365.2 159.2,363.9 160.7,362.5 162.2,361.2 163.7,359.8 165.1,358.5 166.6,357.2 168.1,355.8 169.6,354.5 171.1,353.1 172.6,351.8 174.1,350.4 175.5,349.1 177.0,347.7 178.5,346.3 180.0,345.0 181.4,343.6 182.9,342.3 184.4,340.9 185.9,339.5 187.3,338.2 188.8,336.8 190.3,335.4 191.7,334.1 193.2,332.7 194.7,331.3 196.1,330.0 197.6,328.6 199.1,327.2 200.5,325.8 202.0,324.5 203.5,323.1 204.9,321.7 206.4,320.4 207.9,319.0 209.3,317.6 210.8,316.2 212.2,314.8 213.7,313.5 215.1,312.1 216.6,310.7 218.0,309.3 219.5,307.9 220.9,306.5 222.3,305.1 223.8,303.7 225.2,302.3 226.6,300.8 228.0,299.4 229.4,298.0 230.8,296.6 232.2,295.1 233.6,293.7 235.0,292.2 236.4,290.8 237.8,289.3 239.2,287.9 240.5,286.4 241.9,285.0 243.3,283.5 244.6,282.0 246.0,280.6 247.4,279.1 248.7,277.6 250.1,276.1 251.4,274.7 252.8,273.2 254.1,271.7 255.5,270.2 256.9,268.7 258.2,267.3 259.6,265.8 260.9,264.3 262.3,262.8 263.6,261.3 265.0,259.9 266.4,258.4 267.7,256.9 269.1,255.4 270.5,254.0 271.8,252.5 273.2,251.0 274.5,249.5 275.9,248.1 277.3,246.6 278.6,245.1 280.0,243.6 281.3,242.2 282.7,240.7 284.0,239.2 285.4,237.7 286.7,236.2 288.1,234.7 289.4,233.2 290.7,231.7 292.1,230.2 293.4,228.7 294.7,227.2 296.1,225.7 297.4,224.2 298.7,222.7 300.0,221.2 301.3,219.7 302.6,218.2 303.9,216.6 305.2,215.1 306.5,213.6 307.8,212.0 309.0,210.5 310.3,208.9 311.6,207.4 312.8,205.8 314.1,204.2 315.3,202.7 316.6,201.1 317.8,199.5 319.0,197.9 320.2,196.3 321.5,194.7 322.7,193.1 323.9,191.5 325.1,189.9 326.3,188.3 327.5,186.7 328.7,185.1 329.9,183.5 331.1,181.9 332.3,180.3 333.5,178.7 334.7,177.0 335.9,175.4 337.1,173.8 338.3,172.2 339.5,170.6 340.7,169.0 341.9,167.4 343.1,165.8 344.3,164.2 345.5,162.5 346.7,160.9 347.9,159.4 349.1,157.8 350.3,156.2 351.6,154.6 352.8,153.0 354.1,151.4 355.3,149.8 356.5,148.3 357.8,146.7 359.0,145.1 360.2,143.5 361.4,141.9 362.7,140.3 363.9,138.7 365.1,137.1 366.3,135.5 367.4,133.9 368.6,132.3 369.8,130.6 371.0,129.0 372.2,127.4 373.3,125.8 374.5,124.2 375.7,122.6 376.9,121.0 378.1,119.4 379.3,117.8 380.5,116.2 381.7,114.6 382.9,113.0 384.1,111.4 385.3,109.8 386.5,108.2 387.7,106.6 388.9,105.0 390.1,103.4 391.3,101.7 392.5,100.1 393.7,98.5 394.9,96.9 396.0,95.2 397.2,93.6 398.4,92.0 399.6,90.3 400.8,88.7 402.0,87.0 403.1,85.4 404.4,83.8 405.6,82.2 406.8,80.6 408.0,79.0 409.3,77.4 410.5,75.8 411.8,74.3 413.1,72.7 414.4,71.2 415.8,69.7 417.1,68.3 418.5,66.8 419.9,65.4 421.4,64.0 422.8,62.6 424.3,61.3 425.8,60.0 427.3,58.8 428.9,57.5 430.5,56.4 432.1,55.3 433.8,54.2 435.5,53.2 437.2,52.3 439.0,51.4 440.8,50.6 442.6,49.9 444.5,49.2 446.4,48.6 448.3,48.0 450.2,47.5 452.1,47.0 454.1,46.6 456.1,46.2 458.1,45.9 460.0,45.5 462.0,45.2 464.0,45.0 466.0,44.7 468.0,44.5 470.0,44.3 472.0,44.1 474.0,44.0 476.1,43.8 478.1,43.7 480.1,43.6 482.1,43.5 484.1,43.4 486.1,43.4 488.1,43.3 490.2,43.2 492.2,43.2 494.2,43.1 496.2,43.1 498.2,43.0 500.2,43.0 502.2,43.0 504.3,42.9 506.3,42.9 508.3,42.8 510.3,42.8 512.3,42.7 514.3,42.7 516.3,42.7 518.3,42.6 520.3,42.6 522.3,42.5 524.3,42.5 526.3,42.5 528.3,42.4 530.3,42.4 532.3,42.4 534.3,42.3 536.3,42.3 538.3,42.3 540.3,42.3 542.3,42.3 544.3,42.2 546.3,42.2 548.3,42.2 550.3,42.2 552.3,42.2 554.3,42.2 556.3,42.2 558.3,42.2 560.3,42.2 562.3,42.2 564.3,42.2 566.4,42.2 568.4,42.2 570.4,42.2 572.4,42.2 574.4,42.2 576.4,42.3 578.4,42.3 580.4,42.3 582.4,42.4 584.4,42.4 586.4,42.4 588.4,42.5 590.4,42.5 592.4,42.6 594.4,42.6 596.5,42.7 598.5,42.8 600.5,42.8 602.5,42.9" stroke="#008000" stroke-width="2.4" stroke-dasharray="10 9.15" stroke-dashoffset="0.40"/>
</g>
<g stroke="#000" stroke-width="1.4" fill="none">
<line x1="61.2" y1="8.7" x2="602.8" y2="8.7" stroke="#888"/>
<line x1="61.2" y1="8.0" x2="61.2" y2="453.5"/>
<line x1="602.8" y1="8.0" x2="602.8" y2="453.5"/>
<line x1="53.7" y1="446.0" x2="602.8" y2="446.0"/>
<line x1="61.20" y1="446.0" x2="61.20" y2="453.5"/>
<line x1="115.36" y1="446.0" x2="115.36" y2="450.0"/>
<line x1="169.52" y1="446.0" x2="169.52" y2="453.5"/>
<line x1="223.68" y1="446.0" x2="223.68" y2="450.0"/>
<line x1="277.84" y1="446.0" x2="277.84" y2="453.5"/>
<line x1="332.00" y1="446.0" x2="332.00" y2="450.0"/>
<line x1="386.16" y1="446.0" x2="386.16" y2="453.5"/>
<line x1="440.32" y1="446.0" x2="440.32" y2="450.0"/>
<line x1="494.48" y1="446.0" x2="494.48" y2="453.5"/>
<line x1="548.64" y1="446.0" x2="548.64" y2="450.0"/>
<line x1="602.80" y1="446.0" x2="602.80" y2="453.5"/>
<line x1="53.7" y1="446.00" x2="61.2" y2="446.00"/>
<line x1="57.2" y1="416.85" x2="61.2" y2="416.85"/>
<line x1="53.7" y1="387.69" x2="61.2" y2="387.69"/>
<line x1="57.2" y1="358.54" x2="61.2" y2="358.54"/>
<line x1="53.7" y1="329.39" x2="61.2" y2="329.39"/>
<line x1="57.2" y1="300.23" x2="61.2" y2="300.23"/>
<line x1="53.7" y1="271.08" x2="61.2" y2="271.08"/>
<line x1="57.2" y1="241.93" x2="61.2" y2="241.93"/>
<line x1="53.7" y1="212.77" x2="61.2" y2="212.77"/>
<line x1="57.2" y1="183.62" x2="61.2" y2="183.62"/>
<line x1="53.7" y1="154.47" x2="61.2" y2="154.47"/>
<line x1="57.2" y1="125.31" x2="61.2" y2="125.31"/>
<line x1="53.7" y1="96.16" x2="61.2" y2="96.16"/>
<line x1="57.2" y1="67.01" x2="61.2" y2="67.01"/>
<line x1="53.7" y1="37.85" x2="61.2" y2="37.85"/>
<line x1="57.2" y1="8.70" x2="61.2" y2="8.70"/>
<line x1="595.3" y1="446.00" x2="602.8" y2="446.00"/>
<line x1="598.8" y1="402.27" x2="602.8" y2="402.27"/>
<line x1="595.3" y1="358.54" x2="602.8" y2="358.54"/>
<line x1="598.8" y1="314.81" x2="602.8" y2="314.81"/>
<line x1="595.3" y1="271.08" x2="602.8" y2="271.08"/>
<line x1="598.8" y1="227.35" x2="602.8" y2="227.35"/>
<line x1="595.3" y1="183.62" x2="602.8" y2="183.62"/>
<line x1="598.8" y1="139.89" x2="602.8" y2="139.89"/>
<line x1="595.3" y1="96.16" x2="602.8" y2="96.16"/>
<line x1="598.8" y1="52.43" x2="602.8" y2="52.43"/>
<line x1="595.3" y1="8.70" x2="602.8" y2="8.70"/>
</g>
<g font-family="Liberation Serif, serif" font-weight="bold" font-size="19" fill="#000" style="font-kerning:none">
<text x="61.70" y="474.6" text-anchor="middle">300</text>
<text x="170.02" y="474.6" text-anchor="middle">400</text>
<text x="278.34" y="474.6" text-anchor="middle">500</text>
<text x="386.66" y="474.6" text-anchor="middle">600</text>
<text x="494.98" y="474.6" text-anchor="middle">700</text>
<text x="603.30" y="474.6" text-anchor="middle">800</text>
<text transform="translate(48.6,452.00) scale(1.05,1)" text-anchor="end">0</text>
<text transform="translate(48.6,393.69) scale(1.05,1)" text-anchor="end">10</text>
<text transform="translate(48.6,335.39) scale(1.05,1)" text-anchor="end">20</text>
<text transform="translate(48.6,277.08) scale(1.05,1)" text-anchor="end">30</text>
<text transform="translate(48.6,218.77) scale(1.05,1)" text-anchor="end">40</text>
<text transform="translate(48.6,160.47) scale(1.05,1)" text-anchor="end">50</text>
<text transform="translate(48.6,102.16) scale(1.05,1)" text-anchor="end">60</text>
<text transform="translate(48.6,43.85) scale(1.05,1)" text-anchor="end">70</text>
<text transform="translate(611.4,452.20) scale(1.05,1)">0</text>
<text transform="translate(611.4,364.74) scale(1.05,1)">4</text>
<text transform="translate(611.4,277.28) scale(1.05,1)">8</text>
<text transform="translate(611.4,189.82) scale(1.05,1)">12</text>
<text transform="translate(611.4,102.36) scale(1.05,1)">16</text>
<text transform="translate(611.4,14.90) scale(1.05,1)">20</text>
</g>
<text font-family="Liberation Serif, serif" font-weight="bold" font-size="19" x="319.2" y="497.8" text-anchor="middle" style="font-kerning:none">Wavelength/nm</text>
<text font-family="Liberation Serif, serif" font-weight="bold" font-size="19" transform="translate(15.9,240.7) rotate(-90)" text-anchor="middle" style="font-kerning:none">IPCE <tspan font-weight="normal">(</tspan>%<tspan font-weight="normal">)</tspan></text>
<text font-family="Liberation Serif, serif" font-weight="bold" font-size="19" transform="translate(659.3,227) rotate(-90)" text-anchor="middle" style="font-kerning:none">Integrated J<tspan dy="5.4">SC</tspan><tspan dy="-5.4"> <tspan font-weight="normal">(</tspan>mA.cm</tspan><tspan dy="-7">-2</tspan><tspan dy="7" font-weight="normal">)</tspan></text>
<line x1="295.6" y1="272.30" x2="335.4" y2="272.30" stroke="#000000" stroke-width="2.4" stroke-linecap="round"/>
<text font-family="Liberation Serif, serif" font-weight="bold" font-size="17.9" transform="translate(340.3,278.40) scale(1,1.08)" style="font-kerning:none">N3</text>
<line x1="295.6" y1="295.20" x2="335.4" y2="295.20" stroke="#ff00ff" stroke-width="2.4" stroke-linecap="round"/>
<text font-family="Liberation Serif, serif" font-weight="bold" font-size="17.9" transform="translate(340.3,301.30) scale(1,1.08)" style="font-kerning:none">3a+N3</text>
<line x1="295.6" y1="318.10" x2="335.4" y2="318.10" stroke="#ff9933" stroke-width="2.4" stroke-linecap="round"/>
<text font-family="Liberation Serif, serif" font-weight="bold" font-size="17.9" transform="translate(340.3,324.20) scale(1,1.08)" style="font-kerning:none">3b+N3</text>
<line x1="295.6" y1="341.00" x2="335.4" y2="341.00" stroke="#8b4513" stroke-width="2.4" stroke-linecap="round"/>
<text font-family="Liberation Serif, serif" font-weight="bold" font-size="17.9" transform="translate(340.3,347.10) scale(1,1.08)" style="font-kerning:none">3c+N3</text>
<line x1="295.6" y1="363.90" x2="335.4" y2="363.90" stroke="#00c000" stroke-width="2.4" stroke-linecap="round"/>
<text font-family="Liberation Serif, serif" font-weight="bold" font-size="17.9" transform="translate(340.3,370.00) scale(1,1.08)" style="font-kerning:none">5a+N3</text>
<line x1="295.6" y1="386.80" x2="335.4" y2="386.80" stroke="#0000ff" stroke-width="2.4" stroke-linecap="round"/>
<text font-family="Liberation Serif, serif" font-weight="bold" font-size="17.9" transform="translate(340.3,392.90) scale(1,1.08)" style="font-kerning:none">5b+N3</text>
<line x1="295.6" y1="409.70" x2="335.4" y2="409.70" stroke="#ff0000" stroke-width="2.4" stroke-linecap="round"/>
<text font-family="Liberation Serif, serif" font-weight="bold" font-size="17.9" transform="translate(340.3,415.80) scale(1,1.08)" style="font-kerning:none">5c+N3</text>
</svg>
</body></html>
